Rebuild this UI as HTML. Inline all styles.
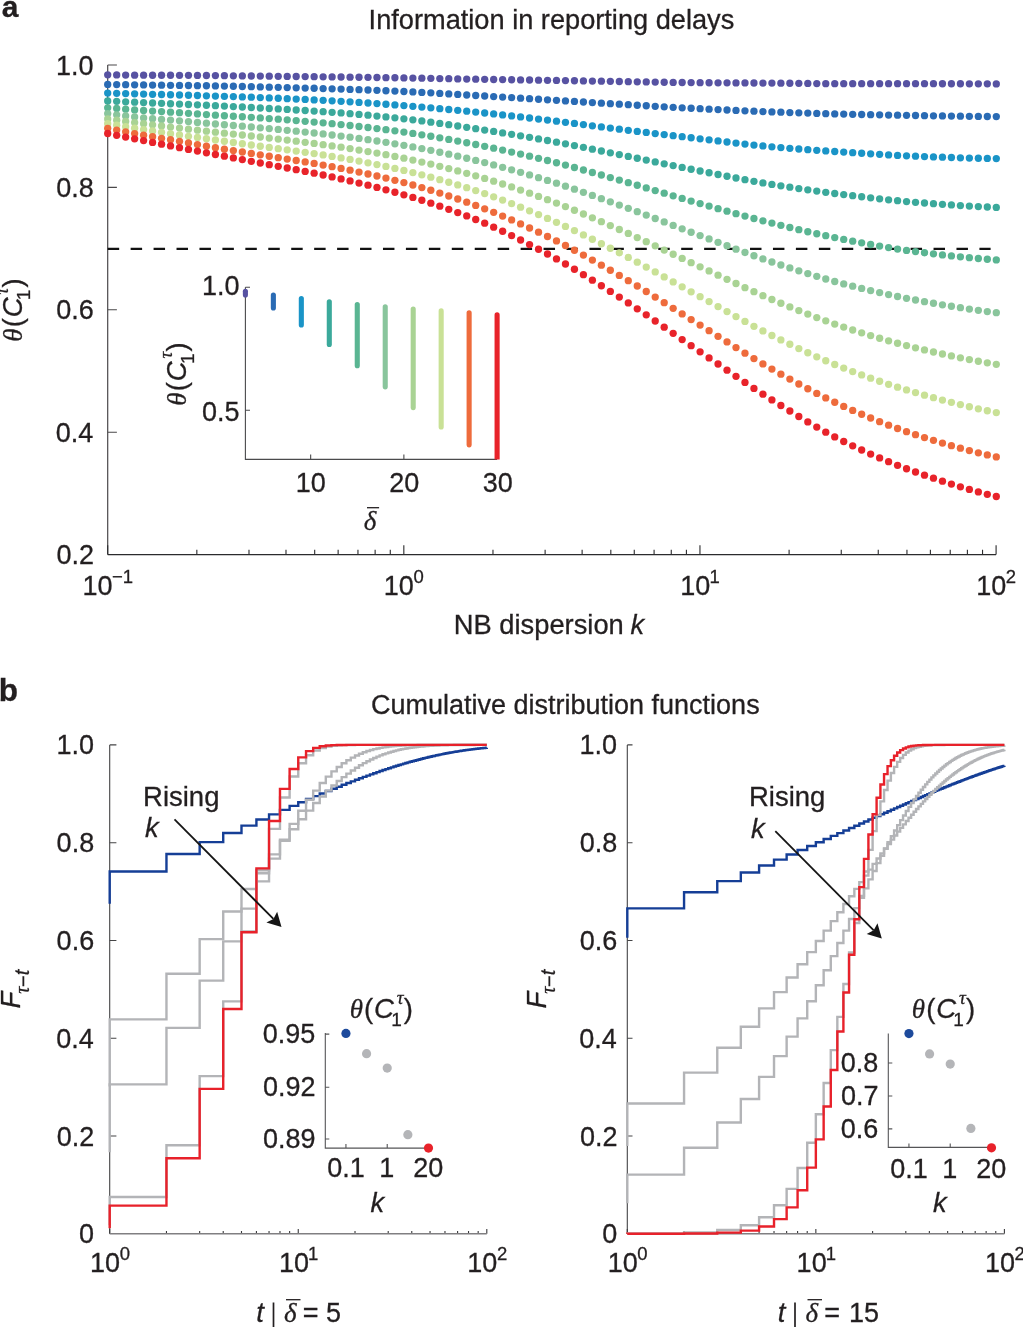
<!DOCTYPE html>
<html><head><meta charset="utf-8"><style>html,body{margin:0;padding:0;background:#fff;overflow:hidden;}svg{display:block;will-change:transform;}</style></head>
<body><svg width="1023" height="1327" viewBox="0 0 1023 1327">
<rect width="1023" height="1327" fill="#fff"/>
<text x="1.80" y="17.20" font-family='"Liberation Sans", sans-serif' font-size="30" font-weight="bold" fill="#231f20" stroke="#231f20" stroke-width="0.3">a</text>
<text x="368.58" y="28.60" font-family='"Liberation Sans", sans-serif' font-size="27.2" fill="#231f20" stroke="#231f20" stroke-width="0.3">Information in reporting delays</text>
<path d="M107.7 65.0H116.9M107.7 65.0V554.6" fill="none" stroke="#4a484a" stroke-width="1.2"/>
<path d="M107.7 554.6H996.09" fill="none" stroke="#2b2b2d" stroke-width="1.2"/>
<path d="M107.7 187.4h9.2M107.7 309.8h9.2M107.7 432.2h9.2" fill="none" stroke="#4a484a" stroke-width="1.1"/>
<path d="M107.7 554.6v-9.3M196.84 554.6v-4.8M248.99 554.6v-4.8M285.99 554.6v-4.8M314.69 554.6v-4.8M338.13 554.6v-4.8M357.96 554.6v-4.8M375.13 554.6v-4.8M390.28 554.6v-4.8M403.83 554.6v-9.3M492.97 554.6v-4.8M545.12 554.6v-4.8M582.12 554.6v-4.8M610.82 554.6v-4.8M634.26 554.6v-4.8M654.09 554.6v-4.8M671.26 554.6v-4.8M686.41 554.6v-4.8M699.96 554.6v-9.3M789.1 554.6v-4.8M841.25 554.6v-4.8M878.25 554.6v-4.8M906.95 554.6v-4.8M930.39 554.6v-4.8M950.22 554.6v-4.8M967.39 554.6v-4.8M982.54 554.6v-4.8M996.09 554.6v-9.3" fill="none" stroke="#2b2b2d" stroke-width="1.1"/>
<text x="56.08" y="74.50" font-family='"Liberation Sans", sans-serif' font-size="27" fill="#231f20" stroke="#231f20" stroke-width="0.3">1.0</text>
<text x="56.22" y="196.90" font-family='"Liberation Sans", sans-serif' font-size="27" fill="#231f20" stroke="#231f20" stroke-width="0.3">0.8</text>
<text x="56.22" y="319.30" font-family='"Liberation Sans", sans-serif' font-size="27" fill="#231f20" stroke="#231f20" stroke-width="0.3">0.6</text>
<text x="55.81" y="441.70" font-family='"Liberation Sans", sans-serif' font-size="27" fill="#231f20" stroke="#231f20" stroke-width="0.3">0.4</text>
<text x="56.42" y="564.10" font-family='"Liberation Sans", sans-serif' font-size="27" fill="#231f20" stroke="#231f20" stroke-width="0.3">0.2</text>
<text x="82.42" y="595.00" font-family='"Liberation Sans", sans-serif' font-size="27" fill="#231f20" stroke="#231f20" stroke-width="0.3">10</text><text x="111.95" y="582.60" font-family='"Liberation Sans", sans-serif' font-size="18.5" fill="#231f20" stroke="#231f20" stroke-width="0.3">−1</text>
<text x="383.77" y="595.00" font-family='"Liberation Sans", sans-serif' font-size="27" fill="#231f20" stroke="#231f20" stroke-width="0.3">10</text><text x="413.49" y="582.60" font-family='"Liberation Sans", sans-serif' font-size="18.5" fill="#231f20" stroke="#231f20" stroke-width="0.3">0</text>
<text x="680.32" y="595.00" font-family='"Liberation Sans", sans-serif' font-size="27" fill="#231f20" stroke="#231f20" stroke-width="0.3">10</text><text x="709.39" y="582.60" font-family='"Liberation Sans", sans-serif' font-size="18.5" fill="#231f20" stroke="#231f20" stroke-width="0.3">1</text>
<text x="976.24" y="595.00" font-family='"Liberation Sans", sans-serif' font-size="27" fill="#231f20" stroke="#231f20" stroke-width="0.3">10</text><text x="1005.77" y="582.60" font-family='"Liberation Sans", sans-serif' font-size="18.5" fill="#231f20" stroke="#231f20" stroke-width="0.3">2</text>
<text x="453.85" y="634.00" font-family='"Liberation Sans", sans-serif' font-size="27.3" fill="#231f20" stroke="#231f20" stroke-width="0.3">NB dispersion</text>
<text x="630.46" y="634.00" font-family='"Liberation Sans", sans-serif' font-size="27.3" font-style="italic" fill="#231f20" stroke="#231f20" stroke-width="0.3">k</text>
<g transform="translate(22.3 340.4) rotate(-90)"><text x="-1.35" y="0.00" font-family='"Liberation Serif", serif' font-size="27" font-style="italic" fill="#231f20" stroke="#231f20" stroke-width="0.3">θ</text><text x="13.08" y="0.00" font-family='"Liberation Sans", sans-serif' font-size="27.5" fill="#231f20" stroke="#231f20" stroke-width="0.3">(</text><text x="23.09" y="0.00" font-family='"Liberation Sans", sans-serif' font-size="27.5" font-style="italic" fill="#231f20" stroke="#231f20" stroke-width="0.3">C</text><text x="40.27" y="7.90" font-family='"Liberation Sans", sans-serif' font-size="19" fill="#231f20" stroke="#231f20" stroke-width="0.3">1</text><text x="45.87" y="-14.00" font-family='"Liberation Serif", serif' font-size="19" font-style="italic" fill="#231f20" stroke="#231f20" stroke-width="0.3">τ</text><text x="52.79" y="0.00" font-family='"Liberation Sans", sans-serif' font-size="27.5" fill="#231f20" stroke="#231f20" stroke-width="0.3">)</text></g>
<line x1="107.7" y1="248.8" x2="990.6" y2="248.8" stroke="#111" stroke-width="2.2" stroke-dasharray="11.47 11.47"/>
<g fill="#5752a2"><circle cx="107.7" cy="74.8" r="3.65"/><circle cx="116.68" cy="74.93" r="3.65"/><circle cx="125.65" cy="75.05" r="3.65"/><circle cx="134.63" cy="75.14" r="3.65"/><circle cx="143.6" cy="75.2" r="3.65"/><circle cx="152.58" cy="75.23" r="3.65"/><circle cx="161.55" cy="75.25" r="3.65"/><circle cx="170.53" cy="75.27" r="3.65"/><circle cx="179.51" cy="75.3" r="3.65"/><circle cx="188.48" cy="75.35" r="3.65"/><circle cx="197.46" cy="75.43" r="3.65"/><circle cx="206.43" cy="75.51" r="3.65"/><circle cx="215.41" cy="75.6" r="3.65"/><circle cx="224.38" cy="75.69" r="3.65"/><circle cx="233.36" cy="75.79" r="3.65"/><circle cx="242.34" cy="75.9" r="3.65"/><circle cx="251.31" cy="76" r="3.65"/><circle cx="260.29" cy="76.1" r="3.65"/><circle cx="269.26" cy="76.2" r="3.65"/><circle cx="278.24" cy="76.29" r="3.65"/><circle cx="287.22" cy="76.39" r="3.65"/><circle cx="296.19" cy="76.49" r="3.65"/><circle cx="305.17" cy="76.58" r="3.65"/><circle cx="314.14" cy="76.69" r="3.65"/><circle cx="323.12" cy="76.79" r="3.65"/><circle cx="332.09" cy="76.9" r="3.65"/><circle cx="341.07" cy="77.01" r="3.65"/><circle cx="350.05" cy="77.13" r="3.65"/><circle cx="359.02" cy="77.25" r="3.65"/><circle cx="368" cy="77.37" r="3.65"/><circle cx="376.97" cy="77.5" r="3.65"/><circle cx="385.95" cy="77.63" r="3.65"/><circle cx="394.92" cy="77.76" r="3.65"/><circle cx="403.9" cy="77.9" r="3.65"/><circle cx="412.88" cy="78.05" r="3.65"/><circle cx="421.85" cy="78.21" r="3.65"/><circle cx="430.83" cy="78.37" r="3.65"/><circle cx="439.8" cy="78.54" r="3.65"/><circle cx="448.78" cy="78.71" r="3.65"/><circle cx="457.75" cy="78.88" r="3.65"/><circle cx="466.73" cy="79.05" r="3.65"/><circle cx="475.71" cy="79.2" r="3.65"/><circle cx="484.68" cy="79.35" r="3.65"/><circle cx="493.66" cy="79.49" r="3.65"/><circle cx="502.63" cy="79.62" r="3.65"/><circle cx="511.61" cy="79.76" r="3.65"/><circle cx="520.58" cy="79.89" r="3.65"/><circle cx="529.56" cy="80.02" r="3.65"/><circle cx="538.54" cy="80.16" r="3.65"/><circle cx="547.51" cy="80.3" r="3.65"/><circle cx="556.49" cy="80.45" r="3.65"/><circle cx="565.46" cy="80.6" r="3.65"/><circle cx="574.44" cy="80.75" r="3.65"/><circle cx="583.42" cy="80.9" r="3.65"/><circle cx="592.39" cy="81.06" r="3.65"/><circle cx="601.37" cy="81.21" r="3.65"/><circle cx="610.34" cy="81.36" r="3.65"/><circle cx="619.32" cy="81.5" r="3.65"/><circle cx="628.29" cy="81.65" r="3.65"/><circle cx="637.27" cy="81.8" r="3.65"/><circle cx="646.25" cy="81.95" r="3.65"/><circle cx="655.22" cy="82.1" r="3.65"/><circle cx="664.2" cy="82.25" r="3.65"/><circle cx="673.17" cy="82.39" r="3.65"/><circle cx="682.15" cy="82.51" r="3.65"/><circle cx="691.12" cy="82.62" r="3.65"/><circle cx="700.1" cy="82.7" r="3.65"/><circle cx="709.08" cy="82.77" r="3.65"/><circle cx="718.05" cy="82.82" r="3.65"/><circle cx="727.03" cy="82.87" r="3.65"/><circle cx="736" cy="82.91" r="3.65"/><circle cx="744.98" cy="82.95" r="3.65"/><circle cx="753.95" cy="83" r="3.65"/><circle cx="762.93" cy="83.04" r="3.65"/><circle cx="771.91" cy="83.1" r="3.65"/><circle cx="780.88" cy="83.17" r="3.65"/><circle cx="789.86" cy="83.26" r="3.65"/><circle cx="798.83" cy="83.36" r="3.65"/><circle cx="807.81" cy="83.46" r="3.65"/><circle cx="816.78" cy="83.55" r="3.65"/><circle cx="825.76" cy="83.63" r="3.65"/><circle cx="834.74" cy="83.68" r="3.65"/><circle cx="843.71" cy="83.7" r="3.65"/><circle cx="852.69" cy="83.7" r="3.65"/><circle cx="861.66" cy="83.7" r="3.65"/><circle cx="870.64" cy="83.7" r="3.65"/><circle cx="879.62" cy="83.7" r="3.65"/><circle cx="888.59" cy="83.7" r="3.65"/><circle cx="897.57" cy="83.7" r="3.65"/><circle cx="906.54" cy="83.7" r="3.65"/><circle cx="915.52" cy="83.7" r="3.65"/><circle cx="924.49" cy="83.7" r="3.65"/><circle cx="933.47" cy="83.71" r="3.65"/><circle cx="942.45" cy="83.73" r="3.65"/><circle cx="951.42" cy="83.75" r="3.65"/><circle cx="960.4" cy="83.77" r="3.65"/><circle cx="969.37" cy="83.8" r="3.65"/><circle cx="978.35" cy="83.83" r="3.65"/><circle cx="987.32" cy="83.87" r="3.65"/><circle cx="996.3" cy="83.9" r="3.65"/></g>
<g fill="#2a6bb4"><circle cx="107.7" cy="84.4" r="3.65"/><circle cx="116.68" cy="84.53" r="3.65"/><circle cx="125.65" cy="84.65" r="3.65"/><circle cx="134.63" cy="84.78" r="3.65"/><circle cx="143.6" cy="84.9" r="3.65"/><circle cx="152.58" cy="85.03" r="3.65"/><circle cx="161.55" cy="85.15" r="3.65"/><circle cx="170.53" cy="85.28" r="3.65"/><circle cx="179.51" cy="85.4" r="3.65"/><circle cx="188.48" cy="85.52" r="3.65"/><circle cx="197.46" cy="85.64" r="3.65"/><circle cx="206.43" cy="85.76" r="3.65"/><circle cx="215.41" cy="85.9" r="3.65"/><circle cx="224.38" cy="86.07" r="3.65"/><circle cx="233.36" cy="86.27" r="3.65"/><circle cx="242.34" cy="86.48" r="3.65"/><circle cx="251.31" cy="86.7" r="3.65"/><circle cx="260.29" cy="86.91" r="3.65"/><circle cx="269.26" cy="87.13" r="3.65"/><circle cx="278.24" cy="87.34" r="3.65"/><circle cx="287.22" cy="87.57" r="3.65"/><circle cx="296.19" cy="87.79" r="3.65"/><circle cx="305.17" cy="88.03" r="3.65"/><circle cx="314.14" cy="88.27" r="3.65"/><circle cx="323.12" cy="88.53" r="3.65"/><circle cx="332.09" cy="88.8" r="3.65"/><circle cx="341.07" cy="89.08" r="3.65"/><circle cx="350.05" cy="89.38" r="3.65"/><circle cx="359.02" cy="89.7" r="3.65"/><circle cx="368" cy="90.02" r="3.65"/><circle cx="376.97" cy="90.37" r="3.65"/><circle cx="385.95" cy="90.73" r="3.65"/><circle cx="394.92" cy="91.11" r="3.65"/><circle cx="403.9" cy="91.5" r="3.65"/><circle cx="412.88" cy="91.92" r="3.65"/><circle cx="421.85" cy="92.38" r="3.65"/><circle cx="430.83" cy="92.87" r="3.65"/><circle cx="439.8" cy="93.38" r="3.65"/><circle cx="448.78" cy="93.91" r="3.65"/><circle cx="457.75" cy="94.44" r="3.65"/><circle cx="466.73" cy="94.98" r="3.65"/><circle cx="475.71" cy="95.5" r="3.65"/><circle cx="484.68" cy="96.02" r="3.65"/><circle cx="493.66" cy="96.55" r="3.65"/><circle cx="502.63" cy="97.09" r="3.65"/><circle cx="511.61" cy="97.62" r="3.65"/><circle cx="520.58" cy="98.17" r="3.65"/><circle cx="529.56" cy="98.71" r="3.65"/><circle cx="538.54" cy="99.26" r="3.65"/><circle cx="547.51" cy="99.8" r="3.65"/><circle cx="556.49" cy="100.35" r="3.65"/><circle cx="565.46" cy="100.9" r="3.65"/><circle cx="574.44" cy="101.46" r="3.65"/><circle cx="583.42" cy="102.02" r="3.65"/><circle cx="592.39" cy="102.58" r="3.65"/><circle cx="601.37" cy="103.13" r="3.65"/><circle cx="610.34" cy="103.67" r="3.65"/><circle cx="619.32" cy="104.2" r="3.65"/><circle cx="628.29" cy="104.72" r="3.65"/><circle cx="637.27" cy="105.25" r="3.65"/><circle cx="646.25" cy="105.77" r="3.65"/><circle cx="655.22" cy="106.29" r="3.65"/><circle cx="664.2" cy="106.79" r="3.65"/><circle cx="673.17" cy="107.29" r="3.65"/><circle cx="682.15" cy="107.78" r="3.65"/><circle cx="691.12" cy="108.25" r="3.65"/><circle cx="700.1" cy="108.7" r="3.65"/><circle cx="709.08" cy="109.14" r="3.65"/><circle cx="718.05" cy="109.58" r="3.65"/><circle cx="727.03" cy="110" r="3.65"/><circle cx="736" cy="110.42" r="3.65"/><circle cx="744.98" cy="110.82" r="3.65"/><circle cx="753.95" cy="111.2" r="3.65"/><circle cx="762.93" cy="111.56" r="3.65"/><circle cx="771.91" cy="111.9" r="3.65"/><circle cx="780.88" cy="112.22" r="3.65"/><circle cx="789.86" cy="112.53" r="3.65"/><circle cx="798.83" cy="112.83" r="3.65"/><circle cx="807.81" cy="113.11" r="3.65"/><circle cx="816.78" cy="113.38" r="3.65"/><circle cx="825.76" cy="113.64" r="3.65"/><circle cx="834.74" cy="113.88" r="3.65"/><circle cx="843.71" cy="114.1" r="3.65"/><circle cx="852.69" cy="114.31" r="3.65"/><circle cx="861.66" cy="114.51" r="3.65"/><circle cx="870.64" cy="114.69" r="3.65"/><circle cx="879.62" cy="114.87" r="3.65"/><circle cx="888.59" cy="115.04" r="3.65"/><circle cx="897.57" cy="115.2" r="3.65"/><circle cx="906.54" cy="115.35" r="3.65"/><circle cx="915.52" cy="115.5" r="3.65"/><circle cx="924.49" cy="115.64" r="3.65"/><circle cx="933.47" cy="115.78" r="3.65"/><circle cx="942.45" cy="115.91" r="3.65"/><circle cx="951.42" cy="116.04" r="3.65"/><circle cx="960.4" cy="116.17" r="3.65"/><circle cx="969.37" cy="116.29" r="3.65"/><circle cx="978.35" cy="116.4" r="3.65"/><circle cx="987.32" cy="116.5" r="3.65"/><circle cx="996.3" cy="116.6" r="3.65"/></g>
<g fill="#1a94c7"><circle cx="107.7" cy="93.1" r="3.65"/><circle cx="116.68" cy="93.34" r="3.65"/><circle cx="125.65" cy="93.57" r="3.65"/><circle cx="134.63" cy="93.81" r="3.65"/><circle cx="143.6" cy="94.05" r="3.65"/><circle cx="152.58" cy="94.29" r="3.65"/><circle cx="161.55" cy="94.52" r="3.65"/><circle cx="170.53" cy="94.76" r="3.65"/><circle cx="179.51" cy="95" r="3.65"/><circle cx="188.48" cy="95.25" r="3.65"/><circle cx="197.46" cy="95.51" r="3.65"/><circle cx="206.43" cy="95.78" r="3.65"/><circle cx="215.41" cy="96.05" r="3.65"/><circle cx="224.38" cy="96.32" r="3.65"/><circle cx="233.36" cy="96.6" r="3.65"/><circle cx="242.34" cy="96.89" r="3.65"/><circle cx="251.31" cy="97.2" r="3.65"/><circle cx="260.29" cy="97.53" r="3.65"/><circle cx="269.26" cy="97.88" r="3.65"/><circle cx="278.24" cy="98.25" r="3.65"/><circle cx="287.22" cy="98.63" r="3.65"/><circle cx="296.19" cy="99.03" r="3.65"/><circle cx="305.17" cy="99.44" r="3.65"/><circle cx="314.14" cy="99.88" r="3.65"/><circle cx="323.12" cy="100.33" r="3.65"/><circle cx="332.09" cy="100.8" r="3.65"/><circle cx="341.07" cy="101.3" r="3.65"/><circle cx="350.05" cy="101.83" r="3.65"/><circle cx="359.02" cy="102.4" r="3.65"/><circle cx="368" cy="102.99" r="3.65"/><circle cx="376.97" cy="103.61" r="3.65"/><circle cx="385.95" cy="104.25" r="3.65"/><circle cx="394.92" cy="104.92" r="3.65"/><circle cx="403.9" cy="105.6" r="3.65"/><circle cx="412.88" cy="106.31" r="3.65"/><circle cx="421.85" cy="107.06" r="3.65"/><circle cx="430.83" cy="107.84" r="3.65"/><circle cx="439.8" cy="108.64" r="3.65"/><circle cx="448.78" cy="109.48" r="3.65"/><circle cx="457.75" cy="110.33" r="3.65"/><circle cx="466.73" cy="111.21" r="3.65"/><circle cx="475.71" cy="112.1" r="3.65"/><circle cx="484.68" cy="113.01" r="3.65"/><circle cx="493.66" cy="113.96" r="3.65"/><circle cx="502.63" cy="114.93" r="3.65"/><circle cx="511.61" cy="115.93" r="3.65"/><circle cx="520.58" cy="116.95" r="3.65"/><circle cx="529.56" cy="117.99" r="3.65"/><circle cx="538.54" cy="119.04" r="3.65"/><circle cx="547.51" cy="120.1" r="3.65"/><circle cx="556.49" cy="121.19" r="3.65"/><circle cx="565.46" cy="122.31" r="3.65"/><circle cx="574.44" cy="123.45" r="3.65"/><circle cx="583.42" cy="124.61" r="3.65"/><circle cx="592.39" cy="125.78" r="3.65"/><circle cx="601.37" cy="126.94" r="3.65"/><circle cx="610.34" cy="128.08" r="3.65"/><circle cx="619.32" cy="129.2" r="3.65"/><circle cx="628.29" cy="130.3" r="3.65"/><circle cx="637.27" cy="131.39" r="3.65"/><circle cx="646.25" cy="132.47" r="3.65"/><circle cx="655.22" cy="133.54" r="3.65"/><circle cx="664.2" cy="134.61" r="3.65"/><circle cx="673.17" cy="135.67" r="3.65"/><circle cx="682.15" cy="136.72" r="3.65"/><circle cx="691.12" cy="137.76" r="3.65"/><circle cx="700.1" cy="138.8" r="3.65"/><circle cx="709.08" cy="139.85" r="3.65"/><circle cx="718.05" cy="140.91" r="3.65"/><circle cx="727.03" cy="141.98" r="3.65"/><circle cx="736" cy="143.03" r="3.65"/><circle cx="744.98" cy="144.06" r="3.65"/><circle cx="753.95" cy="145.04" r="3.65"/><circle cx="762.93" cy="145.96" r="3.65"/><circle cx="771.91" cy="146.8" r="3.65"/><circle cx="780.88" cy="147.57" r="3.65"/><circle cx="789.86" cy="148.31" r="3.65"/><circle cx="798.83" cy="149" r="3.65"/><circle cx="807.81" cy="149.67" r="3.65"/><circle cx="816.78" cy="150.31" r="3.65"/><circle cx="825.76" cy="150.92" r="3.65"/><circle cx="834.74" cy="151.52" r="3.65"/><circle cx="843.71" cy="152.1" r="3.65"/><circle cx="852.69" cy="152.68" r="3.65"/><circle cx="861.66" cy="153.26" r="3.65"/><circle cx="870.64" cy="153.83" r="3.65"/><circle cx="879.62" cy="154.37" r="3.65"/><circle cx="888.59" cy="154.9" r="3.65"/><circle cx="897.57" cy="155.38" r="3.65"/><circle cx="906.54" cy="155.82" r="3.65"/><circle cx="915.52" cy="156.2" r="3.65"/><circle cx="924.49" cy="156.55" r="3.65"/><circle cx="933.47" cy="156.88" r="3.65"/><circle cx="942.45" cy="157.2" r="3.65"/><circle cx="951.42" cy="157.5" r="3.65"/><circle cx="960.4" cy="157.78" r="3.65"/><circle cx="969.37" cy="158.03" r="3.65"/><circle cx="978.35" cy="158.25" r="3.65"/><circle cx="987.32" cy="158.44" r="3.65"/><circle cx="996.3" cy="158.6" r="3.65"/></g>
<g fill="#3ba99b"><circle cx="107.7" cy="100.9" r="3.65"/><circle cx="116.68" cy="101.34" r="3.65"/><circle cx="125.65" cy="101.78" r="3.65"/><circle cx="134.63" cy="102.19" r="3.65"/><circle cx="143.6" cy="102.6" r="3.65"/><circle cx="152.58" cy="102.99" r="3.65"/><circle cx="161.55" cy="103.36" r="3.65"/><circle cx="170.53" cy="103.73" r="3.65"/><circle cx="179.51" cy="104.1" r="3.65"/><circle cx="188.48" cy="104.48" r="3.65"/><circle cx="197.46" cy="104.85" r="3.65"/><circle cx="206.43" cy="105.24" r="3.65"/><circle cx="215.41" cy="105.65" r="3.65"/><circle cx="224.38" cy="106.08" r="3.65"/><circle cx="233.36" cy="106.54" r="3.65"/><circle cx="242.34" cy="107.01" r="3.65"/><circle cx="251.31" cy="107.5" r="3.65"/><circle cx="260.29" cy="107.99" r="3.65"/><circle cx="269.26" cy="108.48" r="3.65"/><circle cx="278.24" cy="108.97" r="3.65"/><circle cx="287.22" cy="109.47" r="3.65"/><circle cx="296.19" cy="109.98" r="3.65"/><circle cx="305.17" cy="110.52" r="3.65"/><circle cx="314.14" cy="111.08" r="3.65"/><circle cx="323.12" cy="111.67" r="3.65"/><circle cx="332.09" cy="112.3" r="3.65"/><circle cx="341.07" cy="112.97" r="3.65"/><circle cx="350.05" cy="113.68" r="3.65"/><circle cx="359.02" cy="114.42" r="3.65"/><circle cx="368" cy="115.22" r="3.65"/><circle cx="376.97" cy="116.05" r="3.65"/><circle cx="385.95" cy="116.92" r="3.65"/><circle cx="394.92" cy="117.84" r="3.65"/><circle cx="403.9" cy="118.8" r="3.65"/><circle cx="412.88" cy="119.83" r="3.65"/><circle cx="421.85" cy="120.95" r="3.65"/><circle cx="430.83" cy="122.14" r="3.65"/><circle cx="439.8" cy="123.39" r="3.65"/><circle cx="448.78" cy="124.68" r="3.65"/><circle cx="457.75" cy="126.01" r="3.65"/><circle cx="466.73" cy="127.35" r="3.65"/><circle cx="475.71" cy="128.7" r="3.65"/><circle cx="484.68" cy="130.06" r="3.65"/><circle cx="493.66" cy="131.46" r="3.65"/><circle cx="502.63" cy="132.88" r="3.65"/><circle cx="511.61" cy="134.34" r="3.65"/><circle cx="520.58" cy="135.83" r="3.65"/><circle cx="529.56" cy="137.35" r="3.65"/><circle cx="538.54" cy="138.91" r="3.65"/><circle cx="547.51" cy="140.5" r="3.65"/><circle cx="556.49" cy="142.14" r="3.65"/><circle cx="565.46" cy="143.84" r="3.65"/><circle cx="574.44" cy="145.58" r="3.65"/><circle cx="583.42" cy="147.36" r="3.65"/><circle cx="592.39" cy="149.17" r="3.65"/><circle cx="601.37" cy="150.98" r="3.65"/><circle cx="610.34" cy="152.8" r="3.65"/><circle cx="619.32" cy="154.6" r="3.65"/><circle cx="628.29" cy="156.41" r="3.65"/><circle cx="637.27" cy="158.23" r="3.65"/><circle cx="646.25" cy="160.08" r="3.65"/><circle cx="655.22" cy="161.93" r="3.65"/><circle cx="664.2" cy="163.78" r="3.65"/><circle cx="673.17" cy="165.62" r="3.65"/><circle cx="682.15" cy="167.44" r="3.65"/><circle cx="691.12" cy="169.24" r="3.65"/><circle cx="700.1" cy="171" r="3.65"/><circle cx="709.08" cy="172.75" r="3.65"/><circle cx="718.05" cy="174.51" r="3.65"/><circle cx="727.03" cy="176.27" r="3.65"/><circle cx="736" cy="178" r="3.65"/><circle cx="744.98" cy="179.69" r="3.65"/><circle cx="753.95" cy="181.33" r="3.65"/><circle cx="762.93" cy="182.91" r="3.65"/><circle cx="771.91" cy="184.4" r="3.65"/><circle cx="780.88" cy="185.83" r="3.65"/><circle cx="789.86" cy="187.21" r="3.65"/><circle cx="798.83" cy="188.55" r="3.65"/><circle cx="807.81" cy="189.85" r="3.65"/><circle cx="816.78" cy="191.11" r="3.65"/><circle cx="825.76" cy="192.32" r="3.65"/><circle cx="834.74" cy="193.48" r="3.65"/><circle cx="843.71" cy="194.6" r="3.65"/><circle cx="852.69" cy="195.69" r="3.65"/><circle cx="861.66" cy="196.77" r="3.65"/><circle cx="870.64" cy="197.82" r="3.65"/><circle cx="879.62" cy="198.83" r="3.65"/><circle cx="888.59" cy="199.79" r="3.65"/><circle cx="897.57" cy="200.7" r="3.65"/><circle cx="906.54" cy="201.54" r="3.65"/><circle cx="915.52" cy="202.3" r="3.65"/><circle cx="924.49" cy="203.01" r="3.65"/><circle cx="933.47" cy="203.69" r="3.65"/><circle cx="942.45" cy="204.34" r="3.65"/><circle cx="951.42" cy="204.96" r="3.65"/><circle cx="960.4" cy="205.54" r="3.65"/><circle cx="969.37" cy="206.08" r="3.65"/><circle cx="978.35" cy="206.57" r="3.65"/><circle cx="987.32" cy="207.01" r="3.65"/><circle cx="996.3" cy="207.4" r="3.65"/></g>
<g fill="#5ab592"><circle cx="107.7" cy="107.8" r="3.65"/><circle cx="116.68" cy="108.52" r="3.65"/><circle cx="125.65" cy="109.22" r="3.65"/><circle cx="134.63" cy="109.88" r="3.65"/><circle cx="143.6" cy="110.5" r="3.65"/><circle cx="152.58" cy="111.07" r="3.65"/><circle cx="161.55" cy="111.61" r="3.65"/><circle cx="170.53" cy="112.14" r="3.65"/><circle cx="179.51" cy="112.7" r="3.65"/><circle cx="188.48" cy="113.31" r="3.65"/><circle cx="197.46" cy="113.96" r="3.65"/><circle cx="206.43" cy="114.6" r="3.65"/><circle cx="215.41" cy="115.2" r="3.65"/><circle cx="224.38" cy="115.74" r="3.65"/><circle cx="233.36" cy="116.24" r="3.65"/><circle cx="242.34" cy="116.75" r="3.65"/><circle cx="251.31" cy="117.3" r="3.65"/><circle cx="260.29" cy="117.9" r="3.65"/><circle cx="269.26" cy="118.53" r="3.65"/><circle cx="278.24" cy="119.18" r="3.65"/><circle cx="287.22" cy="119.86" r="3.65"/><circle cx="296.19" cy="120.57" r="3.65"/><circle cx="305.17" cy="121.3" r="3.65"/><circle cx="314.14" cy="122.07" r="3.65"/><circle cx="323.12" cy="122.87" r="3.65"/><circle cx="332.09" cy="123.7" r="3.65"/><circle cx="341.07" cy="124.58" r="3.65"/><circle cx="350.05" cy="125.5" r="3.65"/><circle cx="359.02" cy="126.48" r="3.65"/><circle cx="368" cy="127.5" r="3.65"/><circle cx="376.97" cy="128.57" r="3.65"/><circle cx="385.95" cy="129.7" r="3.65"/><circle cx="394.92" cy="130.87" r="3.65"/><circle cx="403.9" cy="132.1" r="3.65"/><circle cx="412.88" cy="133.4" r="3.65"/><circle cx="421.85" cy="134.79" r="3.65"/><circle cx="430.83" cy="136.26" r="3.65"/><circle cx="439.8" cy="137.81" r="3.65"/><circle cx="448.78" cy="139.41" r="3.65"/><circle cx="457.75" cy="141.07" r="3.65"/><circle cx="466.73" cy="142.77" r="3.65"/><circle cx="475.71" cy="144.5" r="3.65"/><circle cx="484.68" cy="146.28" r="3.65"/><circle cx="493.66" cy="148.14" r="3.65"/><circle cx="502.63" cy="150.06" r="3.65"/><circle cx="511.61" cy="152.04" r="3.65"/><circle cx="520.58" cy="154.08" r="3.65"/><circle cx="529.56" cy="156.18" r="3.65"/><circle cx="538.54" cy="158.32" r="3.65"/><circle cx="547.51" cy="160.5" r="3.65"/><circle cx="556.49" cy="162.75" r="3.65"/><circle cx="565.46" cy="165.09" r="3.65"/><circle cx="574.44" cy="167.51" r="3.65"/><circle cx="583.42" cy="169.98" r="3.65"/><circle cx="592.39" cy="172.49" r="3.65"/><circle cx="601.37" cy="175.02" r="3.65"/><circle cx="610.34" cy="177.56" r="3.65"/><circle cx="619.32" cy="180.1" r="3.65"/><circle cx="628.29" cy="182.65" r="3.65"/><circle cx="637.27" cy="185.25" r="3.65"/><circle cx="646.25" cy="187.88" r="3.65"/><circle cx="655.22" cy="190.53" r="3.65"/><circle cx="664.2" cy="193.18" r="3.65"/><circle cx="673.17" cy="195.83" r="3.65"/><circle cx="682.15" cy="198.46" r="3.65"/><circle cx="691.12" cy="201.05" r="3.65"/><circle cx="700.1" cy="203.6" r="3.65"/><circle cx="709.08" cy="206.12" r="3.65"/><circle cx="718.05" cy="208.65" r="3.65"/><circle cx="727.03" cy="211.16" r="3.65"/><circle cx="736" cy="213.65" r="3.65"/><circle cx="744.98" cy="216.1" r="3.65"/><circle cx="753.95" cy="218.5" r="3.65"/><circle cx="762.93" cy="220.84" r="3.65"/><circle cx="771.91" cy="223.1" r="3.65"/><circle cx="780.88" cy="225.31" r="3.65"/><circle cx="789.86" cy="227.49" r="3.65"/><circle cx="798.83" cy="229.63" r="3.65"/><circle cx="807.81" cy="231.73" r="3.65"/><circle cx="816.78" cy="233.76" r="3.65"/><circle cx="825.76" cy="235.72" r="3.65"/><circle cx="834.74" cy="237.61" r="3.65"/><circle cx="843.71" cy="239.4" r="3.65"/><circle cx="852.69" cy="241.13" r="3.65"/><circle cx="861.66" cy="242.84" r="3.65"/><circle cx="870.64" cy="244.49" r="3.65"/><circle cx="879.62" cy="246.09" r="3.65"/><circle cx="888.59" cy="247.61" r="3.65"/><circle cx="897.57" cy="249.05" r="3.65"/><circle cx="906.54" cy="250.38" r="3.65"/><circle cx="915.52" cy="251.6" r="3.65"/><circle cx="924.49" cy="252.74" r="3.65"/><circle cx="933.47" cy="253.84" r="3.65"/><circle cx="942.45" cy="254.89" r="3.65"/><circle cx="951.42" cy="255.89" r="3.65"/><circle cx="960.4" cy="256.83" r="3.65"/><circle cx="969.37" cy="257.71" r="3.65"/><circle cx="978.35" cy="258.52" r="3.65"/><circle cx="987.32" cy="259.25" r="3.65"/><circle cx="996.3" cy="259.9" r="3.65"/></g>
<g fill="#89c59c"><circle cx="107.7" cy="113.6" r="3.65"/><circle cx="116.68" cy="114.81" r="3.65"/><circle cx="125.65" cy="115.94" r="3.65"/><circle cx="134.63" cy="116.98" r="3.65"/><circle cx="143.6" cy="117.9" r="3.65"/><circle cx="152.58" cy="118.7" r="3.65"/><circle cx="161.55" cy="119.4" r="3.65"/><circle cx="170.53" cy="120.08" r="3.65"/><circle cx="179.51" cy="120.8" r="3.65"/><circle cx="188.48" cy="121.58" r="3.65"/><circle cx="197.46" cy="122.39" r="3.65"/><circle cx="206.43" cy="123.21" r="3.65"/><circle cx="215.41" cy="124" r="3.65"/><circle cx="224.38" cy="124.75" r="3.65"/><circle cx="233.36" cy="125.48" r="3.65"/><circle cx="242.34" cy="126.22" r="3.65"/><circle cx="251.31" cy="127" r="3.65"/><circle cx="260.29" cy="127.81" r="3.65"/><circle cx="269.26" cy="128.62" r="3.65"/><circle cx="278.24" cy="129.44" r="3.65"/><circle cx="287.22" cy="130.29" r="3.65"/><circle cx="296.19" cy="131.16" r="3.65"/><circle cx="305.17" cy="132.06" r="3.65"/><circle cx="314.14" cy="132.99" r="3.65"/><circle cx="323.12" cy="133.97" r="3.65"/><circle cx="332.09" cy="135" r="3.65"/><circle cx="341.07" cy="136.08" r="3.65"/><circle cx="350.05" cy="137.22" r="3.65"/><circle cx="359.02" cy="138.42" r="3.65"/><circle cx="368" cy="139.67" r="3.65"/><circle cx="376.97" cy="140.99" r="3.65"/><circle cx="385.95" cy="142.36" r="3.65"/><circle cx="394.92" cy="143.8" r="3.65"/><circle cx="403.9" cy="145.3" r="3.65"/><circle cx="412.88" cy="146.89" r="3.65"/><circle cx="421.85" cy="148.57" r="3.65"/><circle cx="430.83" cy="150.36" r="3.65"/><circle cx="439.8" cy="152.23" r="3.65"/><circle cx="448.78" cy="154.18" r="3.65"/><circle cx="457.75" cy="156.19" r="3.65"/><circle cx="466.73" cy="158.27" r="3.65"/><circle cx="475.71" cy="160.4" r="3.65"/><circle cx="484.68" cy="162.6" r="3.65"/><circle cx="493.66" cy="164.91" r="3.65"/><circle cx="502.63" cy="167.31" r="3.65"/><circle cx="511.61" cy="169.79" r="3.65"/><circle cx="520.58" cy="172.35" r="3.65"/><circle cx="529.56" cy="174.97" r="3.65"/><circle cx="538.54" cy="177.66" r="3.65"/><circle cx="547.51" cy="180.4" r="3.65"/><circle cx="556.49" cy="183.22" r="3.65"/><circle cx="565.46" cy="186.16" r="3.65"/><circle cx="574.44" cy="189.18" r="3.65"/><circle cx="583.42" cy="192.28" r="3.65"/><circle cx="592.39" cy="195.44" r="3.65"/><circle cx="601.37" cy="198.64" r="3.65"/><circle cx="610.34" cy="201.87" r="3.65"/><circle cx="619.32" cy="205.1" r="3.65"/><circle cx="628.29" cy="208.37" r="3.65"/><circle cx="637.27" cy="211.7" r="3.65"/><circle cx="646.25" cy="215.08" r="3.65"/><circle cx="655.22" cy="218.5" r="3.65"/><circle cx="664.2" cy="221.94" r="3.65"/><circle cx="673.17" cy="225.39" r="3.65"/><circle cx="682.15" cy="228.82" r="3.65"/><circle cx="691.12" cy="232.23" r="3.65"/><circle cx="700.1" cy="235.6" r="3.65"/><circle cx="709.08" cy="238.97" r="3.65"/><circle cx="718.05" cy="242.36" r="3.65"/><circle cx="727.03" cy="245.77" r="3.65"/><circle cx="736" cy="249.15" r="3.65"/><circle cx="744.98" cy="252.49" r="3.65"/><circle cx="753.95" cy="255.76" r="3.65"/><circle cx="762.93" cy="258.94" r="3.65"/><circle cx="771.91" cy="262" r="3.65"/><circle cx="780.88" cy="264.98" r="3.65"/><circle cx="789.86" cy="267.92" r="3.65"/><circle cx="798.83" cy="270.81" r="3.65"/><circle cx="807.81" cy="273.62" r="3.65"/><circle cx="816.78" cy="276.36" r="3.65"/><circle cx="825.76" cy="278.99" r="3.65"/><circle cx="834.74" cy="281.51" r="3.65"/><circle cx="843.71" cy="283.9" r="3.65"/><circle cx="852.69" cy="286.19" r="3.65"/><circle cx="861.66" cy="288.4" r="3.65"/><circle cx="870.64" cy="290.54" r="3.65"/><circle cx="879.62" cy="292.6" r="3.65"/><circle cx="888.59" cy="294.59" r="3.65"/><circle cx="897.57" cy="296.48" r="3.65"/><circle cx="906.54" cy="298.29" r="3.65"/><circle cx="915.52" cy="300" r="3.65"/><circle cx="924.49" cy="301.64" r="3.65"/><circle cx="933.47" cy="303.24" r="3.65"/><circle cx="942.45" cy="304.78" r="3.65"/><circle cx="951.42" cy="306.27" r="3.65"/><circle cx="960.4" cy="307.7" r="3.65"/><circle cx="969.37" cy="309.06" r="3.65"/><circle cx="978.35" cy="310.35" r="3.65"/><circle cx="987.32" cy="311.57" r="3.65"/><circle cx="996.3" cy="312.7" r="3.65"/></g>
<g fill="#a9d394"><circle cx="107.7" cy="119" r="3.65"/><circle cx="116.68" cy="120.2" r="3.65"/><circle cx="125.65" cy="121.39" r="3.65"/><circle cx="134.63" cy="122.55" r="3.65"/><circle cx="143.6" cy="123.7" r="3.65"/><circle cx="152.58" cy="124.83" r="3.65"/><circle cx="161.55" cy="125.94" r="3.65"/><circle cx="170.53" cy="127.03" r="3.65"/><circle cx="179.51" cy="128.1" r="3.65"/><circle cx="188.48" cy="129.15" r="3.65"/><circle cx="197.46" cy="130.19" r="3.65"/><circle cx="206.43" cy="131.2" r="3.65"/><circle cx="215.41" cy="132.2" r="3.65"/><circle cx="224.38" cy="133.16" r="3.65"/><circle cx="233.36" cy="134.09" r="3.65"/><circle cx="242.34" cy="135.02" r="3.65"/><circle cx="251.31" cy="136" r="3.65"/><circle cx="260.29" cy="137.01" r="3.65"/><circle cx="269.26" cy="138.03" r="3.65"/><circle cx="278.24" cy="139.06" r="3.65"/><circle cx="287.22" cy="140.1" r="3.65"/><circle cx="296.19" cy="141.18" r="3.65"/><circle cx="305.17" cy="142.29" r="3.65"/><circle cx="314.14" cy="143.44" r="3.65"/><circle cx="323.12" cy="144.64" r="3.65"/><circle cx="332.09" cy="145.9" r="3.65"/><circle cx="341.07" cy="147.22" r="3.65"/><circle cx="350.05" cy="148.59" r="3.65"/><circle cx="359.02" cy="150.03" r="3.65"/><circle cx="368" cy="151.53" r="3.65"/><circle cx="376.97" cy="153.09" r="3.65"/><circle cx="385.95" cy="154.72" r="3.65"/><circle cx="394.92" cy="156.43" r="3.65"/><circle cx="403.9" cy="158.2" r="3.65"/><circle cx="412.88" cy="160.06" r="3.65"/><circle cx="421.85" cy="162.04" r="3.65"/><circle cx="430.83" cy="164.11" r="3.65"/><circle cx="439.8" cy="166.28" r="3.65"/><circle cx="448.78" cy="168.53" r="3.65"/><circle cx="457.75" cy="170.88" r="3.65"/><circle cx="466.73" cy="173.3" r="3.65"/><circle cx="475.71" cy="175.8" r="3.65"/><circle cx="484.68" cy="178.4" r="3.65"/><circle cx="493.66" cy="181.14" r="3.65"/><circle cx="502.63" cy="184" r="3.65"/><circle cx="511.61" cy="186.97" r="3.65"/><circle cx="520.58" cy="190.03" r="3.65"/><circle cx="529.56" cy="193.19" r="3.65"/><circle cx="538.54" cy="196.41" r="3.65"/><circle cx="547.51" cy="199.7" r="3.65"/><circle cx="556.49" cy="203.09" r="3.65"/><circle cx="565.46" cy="206.62" r="3.65"/><circle cx="574.44" cy="210.26" r="3.65"/><circle cx="583.42" cy="214" r="3.65"/><circle cx="592.39" cy="217.81" r="3.65"/><circle cx="601.37" cy="221.68" r="3.65"/><circle cx="610.34" cy="225.58" r="3.65"/><circle cx="619.32" cy="229.5" r="3.65"/><circle cx="628.29" cy="233.47" r="3.65"/><circle cx="637.27" cy="237.53" r="3.65"/><circle cx="646.25" cy="241.65" r="3.65"/><circle cx="655.22" cy="245.83" r="3.65"/><circle cx="664.2" cy="250.04" r="3.65"/><circle cx="673.17" cy="254.26" r="3.65"/><circle cx="682.15" cy="258.47" r="3.65"/><circle cx="691.12" cy="262.66" r="3.65"/><circle cx="700.1" cy="266.8" r="3.65"/><circle cx="709.08" cy="270.95" r="3.65"/><circle cx="718.05" cy="275.14" r="3.65"/><circle cx="727.03" cy="279.34" r="3.65"/><circle cx="736" cy="283.52" r="3.65"/><circle cx="744.98" cy="287.66" r="3.65"/><circle cx="753.95" cy="291.72" r="3.65"/><circle cx="762.93" cy="295.68" r="3.65"/><circle cx="771.91" cy="299.5" r="3.65"/><circle cx="780.88" cy="303.23" r="3.65"/><circle cx="789.86" cy="306.91" r="3.65"/><circle cx="798.83" cy="310.54" r="3.65"/><circle cx="807.81" cy="314.08" r="3.65"/><circle cx="816.78" cy="317.53" r="3.65"/><circle cx="825.76" cy="320.86" r="3.65"/><circle cx="834.74" cy="324.06" r="3.65"/><circle cx="843.71" cy="327.1" r="3.65"/><circle cx="852.69" cy="330.02" r="3.65"/><circle cx="861.66" cy="332.85" r="3.65"/><circle cx="870.64" cy="335.6" r="3.65"/><circle cx="879.62" cy="338.25" r="3.65"/><circle cx="888.59" cy="340.81" r="3.65"/><circle cx="897.57" cy="343.25" r="3.65"/><circle cx="906.54" cy="345.59" r="3.65"/><circle cx="915.52" cy="347.8" r="3.65"/><circle cx="924.49" cy="349.93" r="3.65"/><circle cx="933.47" cy="351.99" r="3.65"/><circle cx="942.45" cy="353.99" r="3.65"/><circle cx="951.42" cy="355.92" r="3.65"/><circle cx="960.4" cy="357.78" r="3.65"/><circle cx="969.37" cy="359.55" r="3.65"/><circle cx="978.35" cy="361.23" r="3.65"/><circle cx="987.32" cy="362.81" r="3.65"/><circle cx="996.3" cy="364.3" r="3.65"/></g>
<g fill="#c9e196"><circle cx="107.7" cy="123.7" r="3.65"/><circle cx="116.68" cy="125.22" r="3.65"/><circle cx="125.65" cy="126.71" r="3.65"/><circle cx="134.63" cy="128.17" r="3.65"/><circle cx="143.6" cy="129.6" r="3.65"/><circle cx="152.58" cy="130.99" r="3.65"/><circle cx="161.55" cy="132.36" r="3.65"/><circle cx="170.53" cy="133.69" r="3.65"/><circle cx="179.51" cy="135" r="3.65"/><circle cx="188.48" cy="136.28" r="3.65"/><circle cx="197.46" cy="137.52" r="3.65"/><circle cx="206.43" cy="138.76" r="3.65"/><circle cx="215.41" cy="140" r="3.65"/><circle cx="224.38" cy="141.25" r="3.65"/><circle cx="233.36" cy="142.5" r="3.65"/><circle cx="242.34" cy="143.75" r="3.65"/><circle cx="251.31" cy="145" r="3.65"/><circle cx="260.29" cy="146.24" r="3.65"/><circle cx="269.26" cy="147.45" r="3.65"/><circle cx="278.24" cy="148.65" r="3.65"/><circle cx="287.22" cy="149.85" r="3.65"/><circle cx="296.19" cy="151.07" r="3.65"/><circle cx="305.17" cy="152.32" r="3.65"/><circle cx="314.14" cy="153.61" r="3.65"/><circle cx="323.12" cy="154.97" r="3.65"/><circle cx="332.09" cy="156.4" r="3.65"/><circle cx="341.07" cy="157.9" r="3.65"/><circle cx="350.05" cy="159.47" r="3.65"/><circle cx="359.02" cy="161.1" r="3.65"/><circle cx="368" cy="162.81" r="3.65"/><circle cx="376.97" cy="164.58" r="3.65"/><circle cx="385.95" cy="166.44" r="3.65"/><circle cx="394.92" cy="168.38" r="3.65"/><circle cx="403.9" cy="170.4" r="3.65"/><circle cx="412.88" cy="172.53" r="3.65"/><circle cx="421.85" cy="174.79" r="3.65"/><circle cx="430.83" cy="177.16" r="3.65"/><circle cx="439.8" cy="179.64" r="3.65"/><circle cx="448.78" cy="182.23" r="3.65"/><circle cx="457.75" cy="184.93" r="3.65"/><circle cx="466.73" cy="187.72" r="3.65"/><circle cx="475.71" cy="190.6" r="3.65"/><circle cx="484.68" cy="193.61" r="3.65"/><circle cx="493.66" cy="196.79" r="3.65"/><circle cx="502.63" cy="200.12" r="3.65"/><circle cx="511.61" cy="203.58" r="3.65"/><circle cx="520.58" cy="207.16" r="3.65"/><circle cx="529.56" cy="210.83" r="3.65"/><circle cx="538.54" cy="214.58" r="3.65"/><circle cx="547.51" cy="218.4" r="3.65"/><circle cx="556.49" cy="222.32" r="3.65"/><circle cx="565.46" cy="226.39" r="3.65"/><circle cx="574.44" cy="230.58" r="3.65"/><circle cx="583.42" cy="234.88" r="3.65"/><circle cx="592.39" cy="239.27" r="3.65"/><circle cx="601.37" cy="243.73" r="3.65"/><circle cx="610.34" cy="248.25" r="3.65"/><circle cx="619.32" cy="252.8" r="3.65"/><circle cx="628.29" cy="257.43" r="3.65"/><circle cx="637.27" cy="262.18" r="3.65"/><circle cx="646.25" cy="267.03" r="3.65"/><circle cx="655.22" cy="271.94" r="3.65"/><circle cx="664.2" cy="276.9" r="3.65"/><circle cx="673.17" cy="281.88" r="3.65"/><circle cx="682.15" cy="286.85" r="3.65"/><circle cx="691.12" cy="291.8" r="3.65"/><circle cx="700.1" cy="296.7" r="3.65"/><circle cx="709.08" cy="301.61" r="3.65"/><circle cx="718.05" cy="306.57" r="3.65"/><circle cx="727.03" cy="311.56" r="3.65"/><circle cx="736" cy="316.53" r="3.65"/><circle cx="744.98" cy="321.45" r="3.65"/><circle cx="753.95" cy="326.28" r="3.65"/><circle cx="762.93" cy="330.97" r="3.65"/><circle cx="771.91" cy="335.5" r="3.65"/><circle cx="780.88" cy="339.91" r="3.65"/><circle cx="789.86" cy="344.26" r="3.65"/><circle cx="798.83" cy="348.55" r="3.65"/><circle cx="807.81" cy="352.73" r="3.65"/><circle cx="816.78" cy="356.8" r="3.65"/><circle cx="825.76" cy="360.73" r="3.65"/><circle cx="834.74" cy="364.51" r="3.65"/><circle cx="843.71" cy="368.1" r="3.65"/><circle cx="852.69" cy="371.55" r="3.65"/><circle cx="861.66" cy="374.89" r="3.65"/><circle cx="870.64" cy="378.13" r="3.65"/><circle cx="879.62" cy="381.26" r="3.65"/><circle cx="888.59" cy="384.28" r="3.65"/><circle cx="897.57" cy="387.18" r="3.65"/><circle cx="906.54" cy="389.95" r="3.65"/><circle cx="915.52" cy="392.6" r="3.65"/><circle cx="924.49" cy="395.15" r="3.65"/><circle cx="933.47" cy="397.64" r="3.65"/><circle cx="942.45" cy="400.05" r="3.65"/><circle cx="951.42" cy="402.37" r="3.65"/><circle cx="960.4" cy="404.62" r="3.65"/><circle cx="969.37" cy="406.77" r="3.65"/><circle cx="978.35" cy="408.82" r="3.65"/><circle cx="987.32" cy="410.76" r="3.65"/><circle cx="996.3" cy="412.6" r="3.65"/></g>
<g fill="#ee6b3c"><circle cx="107.7" cy="128.3" r="3.65"/><circle cx="116.68" cy="130.1" r="3.65"/><circle cx="125.65" cy="131.85" r="3.65"/><circle cx="134.63" cy="133.55" r="3.65"/><circle cx="143.6" cy="135.2" r="3.65"/><circle cx="152.58" cy="136.77" r="3.65"/><circle cx="161.55" cy="138.28" r="3.65"/><circle cx="170.53" cy="139.77" r="3.65"/><circle cx="179.51" cy="141.3" r="3.65"/><circle cx="188.48" cy="142.9" r="3.65"/><circle cx="197.46" cy="144.53" r="3.65"/><circle cx="206.43" cy="146.14" r="3.65"/><circle cx="215.41" cy="147.7" r="3.65"/><circle cx="224.38" cy="149.17" r="3.65"/><circle cx="233.36" cy="150.58" r="3.65"/><circle cx="242.34" cy="151.98" r="3.65"/><circle cx="251.31" cy="153.4" r="3.65"/><circle cx="260.29" cy="154.83" r="3.65"/><circle cx="269.26" cy="156.24" r="3.65"/><circle cx="278.24" cy="157.64" r="3.65"/><circle cx="287.22" cy="159.05" r="3.65"/><circle cx="296.19" cy="160.48" r="3.65"/><circle cx="305.17" cy="161.95" r="3.65"/><circle cx="314.14" cy="163.47" r="3.65"/><circle cx="323.12" cy="165.04" r="3.65"/><circle cx="332.09" cy="166.7" r="3.65"/><circle cx="341.07" cy="168.43" r="3.65"/><circle cx="350.05" cy="170.22" r="3.65"/><circle cx="359.02" cy="172.08" r="3.65"/><circle cx="368" cy="174.01" r="3.65"/><circle cx="376.97" cy="176.02" r="3.65"/><circle cx="385.95" cy="178.12" r="3.65"/><circle cx="394.92" cy="180.31" r="3.65"/><circle cx="403.9" cy="182.6" r="3.65"/><circle cx="412.88" cy="185.01" r="3.65"/><circle cx="421.85" cy="187.56" r="3.65"/><circle cx="430.83" cy="190.25" r="3.65"/><circle cx="439.8" cy="193.05" r="3.65"/><circle cx="448.78" cy="195.98" r="3.65"/><circle cx="457.75" cy="199.02" r="3.65"/><circle cx="466.73" cy="202.16" r="3.65"/><circle cx="475.71" cy="205.4" r="3.65"/><circle cx="484.68" cy="208.78" r="3.65"/><circle cx="493.66" cy="212.34" r="3.65"/><circle cx="502.63" cy="216.06" r="3.65"/><circle cx="511.61" cy="219.92" r="3.65"/><circle cx="520.58" cy="223.91" r="3.65"/><circle cx="529.56" cy="228.01" r="3.65"/><circle cx="538.54" cy="232.22" r="3.65"/><circle cx="547.51" cy="236.5" r="3.65"/><circle cx="556.49" cy="240.91" r="3.65"/><circle cx="565.46" cy="245.5" r="3.65"/><circle cx="574.44" cy="250.24" r="3.65"/><circle cx="583.42" cy="255.11" r="3.65"/><circle cx="592.39" cy="260.08" r="3.65"/><circle cx="601.37" cy="265.13" r="3.65"/><circle cx="610.34" cy="270.25" r="3.65"/><circle cx="619.32" cy="275.4" r="3.65"/><circle cx="628.29" cy="280.64" r="3.65"/><circle cx="637.27" cy="286.02" r="3.65"/><circle cx="646.25" cy="291.5" r="3.65"/><circle cx="655.22" cy="297.06" r="3.65"/><circle cx="664.2" cy="302.67" r="3.65"/><circle cx="673.17" cy="308.31" r="3.65"/><circle cx="682.15" cy="313.95" r="3.65"/><circle cx="691.12" cy="319.55" r="3.65"/><circle cx="700.1" cy="325.1" r="3.65"/><circle cx="709.08" cy="330.66" r="3.65"/><circle cx="718.05" cy="336.28" r="3.65"/><circle cx="727.03" cy="341.93" r="3.65"/><circle cx="736" cy="347.56" r="3.65"/><circle cx="744.98" cy="353.14" r="3.65"/><circle cx="753.95" cy="358.61" r="3.65"/><circle cx="762.93" cy="363.95" r="3.65"/><circle cx="771.91" cy="369.1" r="3.65"/><circle cx="780.88" cy="374.13" r="3.65"/><circle cx="789.86" cy="379.1" r="3.65"/><circle cx="798.83" cy="383.99" r="3.65"/><circle cx="807.81" cy="388.77" r="3.65"/><circle cx="816.78" cy="393.43" r="3.65"/><circle cx="825.76" cy="397.94" r="3.65"/><circle cx="834.74" cy="402.27" r="3.65"/><circle cx="843.71" cy="406.4" r="3.65"/><circle cx="852.69" cy="410.38" r="3.65"/><circle cx="861.66" cy="414.25" r="3.65"/><circle cx="870.64" cy="418.02" r="3.65"/><circle cx="879.62" cy="421.66" r="3.65"/><circle cx="888.59" cy="425.16" r="3.65"/><circle cx="897.57" cy="428.51" r="3.65"/><circle cx="906.54" cy="431.69" r="3.65"/><circle cx="915.52" cy="434.7" r="3.65"/><circle cx="924.49" cy="437.58" r="3.65"/><circle cx="933.47" cy="440.37" r="3.65"/><circle cx="942.45" cy="443.08" r="3.65"/><circle cx="951.42" cy="445.68" r="3.65"/><circle cx="960.4" cy="448.18" r="3.65"/><circle cx="969.37" cy="450.56" r="3.65"/><circle cx="978.35" cy="452.81" r="3.65"/><circle cx="987.32" cy="454.93" r="3.65"/><circle cx="996.3" cy="456.9" r="3.65"/></g>
<g fill="#e8232a"><circle cx="107.7" cy="133.5" r="3.65"/><circle cx="116.68" cy="135.28" r="3.65"/><circle cx="125.65" cy="137.05" r="3.65"/><circle cx="134.63" cy="138.82" r="3.65"/><circle cx="143.6" cy="140.6" r="3.65"/><circle cx="152.58" cy="142.38" r="3.65"/><circle cx="161.55" cy="144.17" r="3.65"/><circle cx="170.53" cy="145.95" r="3.65"/><circle cx="179.51" cy="147.7" r="3.65"/><circle cx="188.48" cy="149.42" r="3.65"/><circle cx="197.46" cy="151.12" r="3.65"/><circle cx="206.43" cy="152.81" r="3.65"/><circle cx="215.41" cy="154.5" r="3.65"/><circle cx="224.38" cy="156.2" r="3.65"/><circle cx="233.36" cy="157.89" r="3.65"/><circle cx="242.34" cy="159.59" r="3.65"/><circle cx="251.31" cy="161.3" r="3.65"/><circle cx="260.29" cy="163" r="3.65"/><circle cx="269.26" cy="164.67" r="3.65"/><circle cx="278.24" cy="166.32" r="3.65"/><circle cx="287.22" cy="167.99" r="3.65"/><circle cx="296.19" cy="169.67" r="3.65"/><circle cx="305.17" cy="171.39" r="3.65"/><circle cx="314.14" cy="173.15" r="3.65"/><circle cx="323.12" cy="174.99" r="3.65"/><circle cx="332.09" cy="176.9" r="3.65"/><circle cx="341.07" cy="178.88" r="3.65"/><circle cx="350.05" cy="180.93" r="3.65"/><circle cx="359.02" cy="183.03" r="3.65"/><circle cx="368" cy="185.21" r="3.65"/><circle cx="376.97" cy="187.47" r="3.65"/><circle cx="385.95" cy="189.82" r="3.65"/><circle cx="394.92" cy="192.26" r="3.65"/><circle cx="403.9" cy="194.8" r="3.65"/><circle cx="412.88" cy="197.45" r="3.65"/><circle cx="421.85" cy="200.23" r="3.65"/><circle cx="430.83" cy="203.13" r="3.65"/><circle cx="439.8" cy="206.15" r="3.65"/><circle cx="448.78" cy="209.29" r="3.65"/><circle cx="457.75" cy="212.57" r="3.65"/><circle cx="466.73" cy="215.97" r="3.65"/><circle cx="475.71" cy="219.5" r="3.65"/><circle cx="484.68" cy="223.21" r="3.65"/><circle cx="493.66" cy="227.14" r="3.65"/><circle cx="502.63" cy="231.26" r="3.65"/><circle cx="511.61" cy="235.56" r="3.65"/><circle cx="520.58" cy="240" r="3.65"/><circle cx="529.56" cy="244.57" r="3.65"/><circle cx="538.54" cy="249.24" r="3.65"/><circle cx="547.51" cy="254" r="3.65"/><circle cx="556.49" cy="258.9" r="3.65"/><circle cx="565.46" cy="263.98" r="3.65"/><circle cx="574.44" cy="269.24" r="3.65"/><circle cx="583.42" cy="274.64" r="3.65"/><circle cx="592.39" cy="280.15" r="3.65"/><circle cx="601.37" cy="285.74" r="3.65"/><circle cx="610.34" cy="291.4" r="3.65"/><circle cx="619.32" cy="297.1" r="3.65"/><circle cx="628.29" cy="302.89" r="3.65"/><circle cx="637.27" cy="308.82" r="3.65"/><circle cx="646.25" cy="314.86" r="3.65"/><circle cx="655.22" cy="320.98" r="3.65"/><circle cx="664.2" cy="327.16" r="3.65"/><circle cx="673.17" cy="333.36" r="3.65"/><circle cx="682.15" cy="339.56" r="3.65"/><circle cx="691.12" cy="345.71" r="3.65"/><circle cx="700.1" cy="351.8" r="3.65"/><circle cx="709.08" cy="357.88" r="3.65"/><circle cx="718.05" cy="364.02" r="3.65"/><circle cx="727.03" cy="370.18" r="3.65"/><circle cx="736" cy="376.32" r="3.65"/><circle cx="744.98" cy="382.4" r="3.65"/><circle cx="753.95" cy="388.38" r="3.65"/><circle cx="762.93" cy="394.22" r="3.65"/><circle cx="771.91" cy="399.9" r="3.65"/><circle cx="780.88" cy="405.48" r="3.65"/><circle cx="789.86" cy="411.02" r="3.65"/><circle cx="798.83" cy="416.5" r="3.65"/><circle cx="807.81" cy="421.88" r="3.65"/><circle cx="816.78" cy="427.1" r="3.65"/><circle cx="825.76" cy="432.14" r="3.65"/><circle cx="834.74" cy="436.95" r="3.65"/><circle cx="843.71" cy="441.5" r="3.65"/><circle cx="852.69" cy="445.83" r="3.65"/><circle cx="861.66" cy="450.02" r="3.65"/><circle cx="870.64" cy="454.07" r="3.65"/><circle cx="879.62" cy="457.96" r="3.65"/><circle cx="888.59" cy="461.71" r="3.65"/><circle cx="897.57" cy="465.3" r="3.65"/><circle cx="906.54" cy="468.73" r="3.65"/><circle cx="915.52" cy="472" r="3.65"/><circle cx="924.49" cy="475.15" r="3.65"/><circle cx="933.47" cy="478.21" r="3.65"/><circle cx="942.45" cy="481.17" r="3.65"/><circle cx="951.42" cy="484.03" r="3.65"/><circle cx="960.4" cy="486.78" r="3.65"/><circle cx="969.37" cy="489.41" r="3.65"/><circle cx="978.35" cy="491.91" r="3.65"/><circle cx="987.32" cy="494.28" r="3.65"/><circle cx="996.3" cy="496.5" r="3.65"/></g>
<path d="M245.4 287.3h4.6M245.4 410.3h4.6M310.66 459.4v-4.8M403.88 459.4v-4.8M245.4 287.3V459.4H497.1" fill="none" stroke="#4a4a4c" stroke-width="1.1"/>
<clipPath id="ic"><rect x="230" y="270" width="290" height="189.4"/></clipPath>
<g clip-path="url(#ic)" stroke-linecap="round" stroke-width="5.1"><line x1="245.4" y1="291.24" x2="245.4" y2="294.9" stroke="#5752a2"/><line x1="273.37" y1="295.1" x2="273.37" y2="308.04" stroke="#2a6bb4"/><line x1="301.33" y1="298.6" x2="301.33" y2="324.92" stroke="#1a94c7"/><line x1="329.3" y1="301.73" x2="329.3" y2="344.54" stroke="#3ba99b"/><line x1="357.27" y1="304.5" x2="357.27" y2="365.64" stroke="#5ab592"/><line x1="385.23" y1="306.84" x2="385.23" y2="386.87" stroke="#89c59c"/><line x1="413.2" y1="309.01" x2="413.2" y2="407.61" stroke="#a9d394"/><line x1="441.17" y1="310.9" x2="441.17" y2="427.02" stroke="#c9e196"/><line x1="469.13" y1="312.74" x2="469.13" y2="444.83" stroke="#ee6b3c"/><line x1="497.1" y1="314.83" x2="497.1" y2="460.75" stroke="#e8232a"/></g>
<text x="201.98" y="295.30" font-family='"Liberation Sans", sans-serif' font-size="27" fill="#231f20" stroke="#231f20" stroke-width="0.3">1.0</text>
<text x="202.05" y="421.40" font-family='"Liberation Sans", sans-serif' font-size="27" fill="#231f20" stroke="#231f20" stroke-width="0.3">0.5</text>
<text x="295.76" y="491.50" font-family='"Liberation Sans", sans-serif' font-size="27" fill="#231f20" stroke="#231f20" stroke-width="0.3">10</text>
<text x="389.32" y="491.50" font-family='"Liberation Sans", sans-serif' font-size="27" fill="#231f20" stroke="#231f20" stroke-width="0.3">20</text>
<text x="482.72" y="491.50" font-family='"Liberation Sans", sans-serif' font-size="27" fill="#231f20" stroke="#231f20" stroke-width="0.3">30</text>
<g transform="translate(186.3 404.3) rotate(-90)"><text x="-1.35" y="0.00" font-family='"Liberation Serif", serif' font-size="27" font-style="italic" fill="#231f20" stroke="#231f20" stroke-width="0.3">θ</text><text x="13.08" y="0.00" font-family='"Liberation Sans", sans-serif' font-size="27.5" fill="#231f20" stroke="#231f20" stroke-width="0.3">(</text><text x="23.09" y="0.00" font-family='"Liberation Sans", sans-serif' font-size="27.5" font-style="italic" fill="#231f20" stroke="#231f20" stroke-width="0.3">C</text><text x="40.27" y="7.90" font-family='"Liberation Sans", sans-serif' font-size="19" fill="#231f20" stroke="#231f20" stroke-width="0.3">1</text><text x="45.87" y="-14.00" font-family='"Liberation Serif", serif' font-size="19" font-style="italic" fill="#231f20" stroke="#231f20" stroke-width="0.3">τ</text><text x="52.79" y="0.00" font-family='"Liberation Sans", sans-serif' font-size="27.5" fill="#231f20" stroke="#231f20" stroke-width="0.3">)</text></g>
<text x="363.69" y="529.60" font-family='"Liberation Serif", serif' font-size="27" font-style="italic" fill="#231f20" stroke="#231f20" stroke-width="0.3">δ</text><line x1="367" y1="507.7" x2="379.1" y2="507.7" stroke="#231f20" stroke-width="1.3"/>
<text x="-1.15" y="700.60" font-family='"Liberation Sans", sans-serif' font-size="31.5" font-weight="bold" fill="#231f20" stroke="#231f20" stroke-width="0.3">b</text>
<text x="370.95" y="713.70" font-family='"Liberation Sans", sans-serif' font-size="27" fill="#231f20" stroke="#231f20" stroke-width="0.3">Cumulative distribution functions</text>
<path d="M109.7 744.9h6.7M109.7 744.9V1233.8" fill="none" stroke="#444446" stroke-width="1.1"/>
<path d="M109.7 1136.02h6.7M109.7 1038.24h6.7M109.7 940.46h6.7M109.7 842.68h6.7" fill="none" stroke="#444446" stroke-width="1.1"/>
<path d="M109.7 1233.8v-4.7M166.46 1233.8v-2.8M199.66 1233.8v-2.8M223.22 1233.8v-2.8M241.49 1233.8v-2.8M256.42 1233.8v-2.8M269.04 1233.8v-2.8M279.98 1233.8v-2.8M289.62 1233.8v-2.8M298.25 1233.8v-4.7M355.01 1233.8v-2.8M388.21 1233.8v-2.8M411.77 1233.8v-2.8M430.04 1233.8v-2.8M444.97 1233.8v-2.8M457.59 1233.8v-2.8M468.53 1233.8v-2.8M478.17 1233.8v-2.8M486.8 1233.8v-4.7" fill="none" stroke="#3a3a3c" stroke-width="1.1"/>
<path d="M109.7 1233.8H486.8" fill="none" stroke="#807f81" stroke-width="1.4"/>
<path d="M109.7 903.84V871.49H166.46V854.05H199.66V842.08H223.22V832.98H241.49V825.67H256.42V819.57H269.04V814.37H279.98V809.84H289.62V805.84H298.25V802.28H306.05V799.07H313.18V796.16H319.73V793.5H325.8V791.06H331.45V788.82H336.74V786.74H341.7V784.81H346.38V783.01H350.81V781.34H355.01V779.77H359V778.29H362.81V776.9H366.45V775.6H369.94V774.37H373.28V773.2H376.49V772.1H379.58V771.06H382.56V770.06H385.44V769.12H388.21V768.23H390.9V767.37H393.5V766.56H396.02V765.79H398.46V765.05H400.83V764.34H403.14V763.67H405.38V763.02H407.57V762.4H409.7V761.81H411.77V761.24H413.79V760.7H415.76V760.18H417.69V759.68H419.57V759.2H421.41V758.73H423.21V758.29H424.97V757.86H426.7V757.45H428.39V757.06H430.04V756.68H431.66V756.31H433.25V755.96H434.81V755.62H436.34V755.29H437.85V754.97H439.32V754.67H440.77V754.37H442.19V754.09H443.59V753.81H444.97V753.55H446.32V753.29H447.66V753.04H448.97V752.8H450.26V752.57H451.52V752.35H452.78V752.13H454.01V751.92H455.22V751.72H456.41V751.53H457.59V751.34H458.75V751.15H459.9V750.98H461.03V750.8H462.14V750.64H463.24V750.48H464.33V750.32H465.4V750.17H466.45V750.02H467.5V749.88H468.53V749.74H469.54V749.61H470.55V749.48H471.54V749.35H472.52V749.23H473.49V749.11H474.45V749H475.4V748.89H476.33V748.78H477.26V748.68H478.17V748.57H479.08V748.48H479.97V748.38H480.86V748.29H481.73V748.2H482.6V748.11H483.46V748.02H484.31V747.94H485.15V747.86H485.98V747.78H486.8V747.71" fill="none" stroke="#153e96" stroke-width="2.4"/>
<path d="M109.7 1086.39V1019.39H166.46V973.7H199.66V939.09H223.22V911.56H241.49V889.04H256.42V870.27H269.04V854.42H279.98V840.92H289.62V829.32H298.25V819.31H306.05V810.62H313.18V803.05H319.73V796.43H325.8V790.63H331.45V785.53H336.74V781.04H341.7V777.08H346.38V773.58H350.81V770.48H355.01V767.73H359V765.3H362.81V763.13H366.45V761.2H369.94V759.49H373.28V757.96H376.49V756.6H379.58V755.38H382.56V754.3H385.44V753.33H388.21V752.46H390.9V751.69H393.5V750.99H396.02V750.37H398.46V749.82H400.83V749.32H403.14V748.87H405.38V748.47H407.57V748.11H409.7V747.79H411.77V747.5H413.79V747.24H415.76V747.01H417.69V746.8H419.57V746.61H421.41V746.44H423.21V746.29H424.97V746.15H426.7V746.02H428.39V745.91H430.04V745.81H431.66V745.72H433.25V745.64H434.81V745.57H436.34V745.5H437.85V745.44H439.32V745.39H440.77V745.34H442.19V745.3H443.59V745.26H444.97V745.23H446.32V745.19H447.66V745.17H448.97V745.14H450.26V745.12H451.52V745.1H452.78V745.08H454.01V745.06H455.22V745.04H456.41V745.03H457.59V745.02H458.75V745.01H459.9V745H461.03V744.99H462.14V744.98H463.24V744.97H464.33V744.96H465.4V744.96H466.45V744.95H467.5V744.95H468.53V744.94H469.54V744.94H470.55V744.93H471.54V744.93H472.52V744.93H473.49V744.93H474.45V744.92H475.4V744.92H476.33V744.92H477.26V744.92H478.17V744.92H479.08V744.91H479.97V744.91H480.86V744.91H481.73V744.91H482.6V744.91H483.46V744.91H484.31V744.91H485.15V744.91H485.98V744.91H486.8V744.91" fill="none" stroke="#b3b4b7" stroke-width="2.4"/>
<path d="M109.7 1152.32V1084.41H166.46V1027.83H199.66V980.67H223.22V941.38H241.49V908.63H256.42V881.34H269.04V858.6H279.98V839.65H289.62V823.86H298.25V810.7H306.05V799.73H313.18V790.59H319.73V782.98H325.8V776.63H331.45V771.34H336.74V766.94H341.7V763.26H346.38V760.2H350.81V757.65H355.01V755.53H359V753.76H362.81V752.28H366.45V751.05H369.94V750.02H373.28V749.17H376.49V748.46H379.58V747.87H382.56V747.37H385.44V746.96H388.21V746.62H390.9V746.33H393.5V746.09H396.02V745.89H398.46V745.73H400.83V745.59H403.14V745.47H405.38V745.38H407.57V745.3H409.7V745.23H411.77V745.18H413.79V745.13H415.76V745.09H417.69V745.06H419.57V745.03H421.41V745.01H423.21V744.99H424.97V744.98H426.7V744.96H428.39V744.95H430.04V744.94H431.66V744.94H433.25V744.93H434.81V744.93H436.34V744.92H437.85V744.92H439.32V744.91H440.77V744.91H442.19V744.91H443.59V744.91H444.97V744.91H446.32V744.91H447.66V744.91H448.97V744.9H450.26V744.9H451.52V744.9H452.78V744.9H454.01V744.9H455.22V744.9H456.41V744.9H457.59V744.9H458.75V744.9H459.9V744.9H461.03V744.9H462.14V744.9H463.24V744.9H464.33V744.9H465.4V744.9H466.45V744.9H467.5V744.9H468.53V744.9H469.54V744.9H470.55V744.9H471.54V744.9H472.52V744.9H473.49V744.9H474.45V744.9H475.4V744.9H476.33V744.9H477.26V744.9H478.17V744.9H479.08V744.9H479.97V744.9H480.86V744.9H481.73V744.9H482.6V744.9H483.46V744.9H484.31V744.9H485.15V744.9H485.98V744.9H486.8V744.9" fill="none" stroke="#b3b4b7" stroke-width="2.4"/>
<path d="M109.7 1225.32V1197.06H166.46V1145.25H199.66V1076.17H223.22V1001.33H241.49V931.48H256.42V873.27H269.04V828.92H279.98V797.51H289.62V776.56H298.25V763.3H306.05V755.26H313.18V750.57H319.73V747.93H325.8V746.48H331.45V745.71H336.74V745.3H341.7V745.1H346.38V745H350.81V744.95H355.01V744.92H359V744.91H362.81V744.9H366.45V744.9H369.94V744.9H373.28V744.9H376.49V744.9H379.58V744.9H382.56V744.9H385.44V744.9H388.21V744.9H390.9V744.9H393.5V744.9H396.02V744.9H398.46V744.9H400.83V744.9H403.14V744.9H405.38V744.9H407.57V744.9H409.7V744.9H411.77V744.9H413.79V744.9H415.76V744.9H417.69V744.9H419.57V744.9H421.41V744.9H423.21V744.9H424.97V744.9H426.7V744.9H428.39V744.9H430.04V744.9H431.66V744.9H433.25V744.9H434.81V744.9H436.34V744.9H437.85V744.9H439.32V744.9H440.77V744.9H442.19V744.9H443.59V744.9H444.97V744.9H446.32V744.9H447.66V744.9H448.97V744.9H450.26V744.9H451.52V744.9H452.78V744.9H454.01V744.9H455.22V744.9H456.41V744.9H457.59V744.9H458.75V744.9H459.9V744.9H461.03V744.9H462.14V744.9H463.24V744.9H464.33V744.9H465.4V744.9H466.45V744.9H467.5V744.9H468.53V744.9H469.54V744.9H470.55V744.9H471.54V744.9H472.52V744.9H473.49V744.9H474.45V744.9H475.4V744.9H476.33V744.9H477.26V744.9H478.17V744.9H479.08V744.9H479.97V744.9H480.86V744.9H481.73V744.9H482.6V744.9H483.46V744.9H484.31V744.9H485.15V744.9H485.98V744.9H486.8V744.9" fill="none" stroke="#b3b4b7" stroke-width="2.4"/>
<path d="M109.7 1228.16V1205.62H166.46V1158.27H199.66V1088.83H223.22V1008.97H241.49V932.3H256.42V868.41H269.04V820.95H279.98V788.92H289.62V768.98H298.25V757.42H306.05V751.12H313.18V747.86H319.73V746.26H325.8V745.5H331.45V745.16H336.74V745.01H341.7V744.94H346.38V744.92H350.81V744.91H355.01V744.9H359V744.9H362.81V744.9H366.45V744.9H369.94V744.9H373.28V744.9H376.49V744.9H379.58V744.9H382.56V744.9H385.44V744.9H388.21V744.9H390.9V744.9H393.5V744.9H396.02V744.9H398.46V744.9H400.83V744.9H403.14V744.9H405.38V744.9H407.57V744.9H409.7V744.9H411.77V744.9H413.79V744.9H415.76V744.9H417.69V744.9H419.57V744.9H421.41V744.9H423.21V744.9H424.97V744.9H426.7V744.9H428.39V744.9H430.04V744.9H431.66V744.9H433.25V744.9H434.81V744.9H436.34V744.9H437.85V744.9H439.32V744.9H440.77V744.9H442.19V744.9H443.59V744.9H444.97V744.9H446.32V744.9H447.66V744.9H448.97V744.9H450.26V744.9H451.52V744.9H452.78V744.9H454.01V744.9H455.22V744.9H456.41V744.9H457.59V744.9H458.75V744.9H459.9V744.9H461.03V744.9H462.14V744.9H463.24V744.9H464.33V744.9H465.4V744.9H466.45V744.9H467.5V744.9H468.53V744.9H469.54V744.9H470.55V744.9H471.54V744.9H472.52V744.9H473.49V744.9H474.45V744.9H475.4V744.9H476.33V744.9H477.26V744.9H478.17V744.9H479.08V744.9H479.97V744.9H480.86V744.9H481.73V744.9H482.6V744.9H483.46V744.9H484.31V744.9H485.15V744.9H485.98V744.9H486.8V744.9" fill="none" stroke="#e8212a" stroke-width="2.4"/>
<text x="56.48" y="754.40" font-family='"Liberation Sans", sans-serif' font-size="27" fill="#231f20" stroke="#231f20" stroke-width="0.3">1.0</text>
<text x="56.62" y="852.18" font-family='"Liberation Sans", sans-serif' font-size="27" fill="#231f20" stroke="#231f20" stroke-width="0.3">0.8</text>
<text x="56.62" y="949.96" font-family='"Liberation Sans", sans-serif' font-size="27" fill="#231f20" stroke="#231f20" stroke-width="0.3">0.6</text>
<text x="56.21" y="1047.74" font-family='"Liberation Sans", sans-serif' font-size="27" fill="#231f20" stroke="#231f20" stroke-width="0.3">0.4</text>
<text x="56.82" y="1145.52" font-family='"Liberation Sans", sans-serif' font-size="27" fill="#231f20" stroke="#231f20" stroke-width="0.3">0.2</text>
<text x="79.03" y="1243.30" font-family='"Liberation Sans", sans-serif' font-size="27" fill="#231f20" stroke="#231f20" stroke-width="0.3">0</text>
<text x="90.04" y="1272.00" font-family='"Liberation Sans", sans-serif' font-size="27" fill="#231f20" stroke="#231f20" stroke-width="0.3">10</text><text x="119.76" y="1259.60" font-family='"Liberation Sans", sans-serif' font-size="18.5" fill="#231f20" stroke="#231f20" stroke-width="0.3">0</text>
<text x="279.01" y="1272.00" font-family='"Liberation Sans", sans-serif' font-size="27" fill="#231f20" stroke="#231f20" stroke-width="0.3">10</text><text x="308.08" y="1259.60" font-family='"Liberation Sans", sans-serif' font-size="18.5" fill="#231f20" stroke="#231f20" stroke-width="0.3">1</text>
<text x="467.35" y="1272.00" font-family='"Liberation Sans", sans-serif' font-size="27" fill="#231f20" stroke="#231f20" stroke-width="0.3">10</text><text x="496.88" y="1259.60" font-family='"Liberation Sans", sans-serif' font-size="18.5" fill="#231f20" stroke="#231f20" stroke-width="0.3">2</text>
<g transform="translate(20.3 1007.6) rotate(-90)"><text x="-0.82" y="0.00" font-family='"Liberation Sans", sans-serif' font-size="27.5" font-style="italic" fill="#231f20" stroke="#231f20" stroke-width="0.3">F</text><text x="13.85" y="8.90" font-family='"Liberation Serif", serif' font-size="20" font-style="italic" fill="#231f20" stroke="#231f20" stroke-width="0.3">τ</text><text x="20.60" y="10.00" font-family='"Liberation Sans", sans-serif' font-size="20" fill="#231f20" stroke="#231f20" stroke-width="0.3">−</text><text x="32.30" y="8.90" font-family='"Liberation Sans", sans-serif' font-size="20" font-style="italic" fill="#231f20" stroke="#231f20" stroke-width="0.3">t</text></g>
<text x="256.36" y="1321.90" font-family='"Liberation Sans", sans-serif' font-size="27.5" font-style="italic" fill="#231f20" stroke="#231f20" stroke-width="0.3">t</text>
<line x1="273.5" y1="1302.5" x2="273.5" y2="1328" stroke="#231f20" stroke-width="1.7"/>
<text x="283.99" y="1321.90" font-family='"Liberation Serif", serif' font-size="27" font-style="italic" fill="#231f20" stroke="#231f20" stroke-width="0.3">δ</text><line x1="286" y1="1299.7" x2="300.5" y2="1299.7" stroke="#231f20" stroke-width="1.3"/>
<text x="302.85" y="1321.90" font-family='"Liberation Sans", sans-serif' font-size="27" fill="#231f20" stroke="#231f20" stroke-width="0.3">=</text>
<text x="326.12" y="1321.90" font-family='"Liberation Sans", sans-serif' font-size="27" fill="#231f20" stroke="#231f20" stroke-width="0.3">5</text>
<text x="143.03" y="805.70" font-family='"Liberation Sans", sans-serif' font-size="27.5" fill="#231f20" stroke="#231f20" stroke-width="0.3">Rising</text>
<text x="145.12" y="837.30" font-family='"Liberation Sans", sans-serif' font-size="27.3" font-style="italic" fill="#231f20" stroke="#231f20" stroke-width="0.3">k</text>
<line x1="174.5" y1="819.4" x2="273.42" y2="918.88" stroke="#151515" stroke-width="1.8"/>
<path d="M281.5 927L266.38 922.57L273.42 918.88L277.16 911.86Z" fill="#151515"/>
<text x="262.76" y="1043.10" font-family='"Liberation Sans", sans-serif' font-size="27" fill="#231f20" stroke="#231f20" stroke-width="0.3">0.95</text>
<text x="263.03" y="1096.20" font-family='"Liberation Sans", sans-serif' font-size="27" fill="#231f20" stroke="#231f20" stroke-width="0.3">0.92</text>
<text x="262.90" y="1148.00" font-family='"Liberation Sans", sans-serif' font-size="27" fill="#231f20" stroke="#231f20" stroke-width="0.3">0.89</text>
<path d="M325.3 1033V1148.1H428.5M325.3 1034.1h4M325.3 1087.2h4M325.3 1139h4M345.94 1148.1v-4M387.22 1148.1v-4" fill="none" stroke="#555557" stroke-width="1.1"/>
<circle cx="345.94" cy="1033.4" r="4.6" fill="#1d4a9c"/>
<circle cx="366.58" cy="1053.7" r="4.6" fill="#b4b5b8"/>
<circle cx="387.22" cy="1068.1" r="4.6" fill="#b4b5b8"/>
<circle cx="407.86" cy="1134.7" r="4.6" fill="#b4b5b8"/>
<circle cx="428.5" cy="1148.1" r="4.6" fill="#e8222a"/>
<text x="327.28" y="1177.10" font-family='"Liberation Sans", sans-serif' font-size="27" fill="#231f20" stroke="#231f20" stroke-width="0.3">0.1</text>
<text x="379.36" y="1177.10" font-family='"Liberation Sans", sans-serif' font-size="27" fill="#231f20" stroke="#231f20" stroke-width="0.3">1</text>
<text x="413.35" y="1177.10" font-family='"Liberation Sans", sans-serif' font-size="27" fill="#231f20" stroke="#231f20" stroke-width="0.3">20</text>
<text x="370.39" y="1211.50" font-family='"Liberation Sans", sans-serif' font-size="27.3" font-style="italic" fill="#231f20" stroke="#231f20" stroke-width="0.3">k</text>
<g transform="translate(351 1018.3)"><text x="-1.35" y="0.00" font-family='"Liberation Serif", serif' font-size="27" font-style="italic" fill="#231f20" stroke="#231f20" stroke-width="0.3">θ</text><text x="13.08" y="0.00" font-family='"Liberation Sans", sans-serif' font-size="27.5" fill="#231f20" stroke="#231f20" stroke-width="0.3">(</text><text x="23.09" y="0.00" font-family='"Liberation Sans", sans-serif' font-size="27.5" font-style="italic" fill="#231f20" stroke="#231f20" stroke-width="0.3">C</text><text x="40.27" y="7.90" font-family='"Liberation Sans", sans-serif' font-size="19" fill="#231f20" stroke="#231f20" stroke-width="0.3">1</text><text x="45.87" y="-14.00" font-family='"Liberation Serif", serif' font-size="19" font-style="italic" fill="#231f20" stroke="#231f20" stroke-width="0.3">τ</text><text x="52.79" y="0.00" font-family='"Liberation Sans", sans-serif' font-size="27.5" fill="#231f20" stroke="#231f20" stroke-width="0.3">)</text></g>
<path d="M627.3 744.9h5.2M627.3 744.9V1233.8" fill="none" stroke="#444446" stroke-width="1.1"/>
<path d="M627.3 1136.02h5.2M627.3 1038.24h5.2M627.3 940.46h5.2M627.3 842.68h5.2" fill="none" stroke="#444446" stroke-width="1.1"/>
<path d="M627.3 1233.8v-4.7M684.06 1233.8v-2.8M717.26 1233.8v-2.8M740.82 1233.8v-2.8M759.09 1233.8v-2.8M774.02 1233.8v-2.8M786.64 1233.8v-2.8M797.58 1233.8v-2.8M807.22 1233.8v-2.8M815.85 1233.8v-4.7M872.61 1233.8v-2.8M905.81 1233.8v-2.8M929.37 1233.8v-2.8M947.64 1233.8v-2.8M962.57 1233.8v-2.8M975.19 1233.8v-2.8M986.13 1233.8v-2.8M995.77 1233.8v-2.8M1004.4 1233.8v-4.7" fill="none" stroke="#3a3a3c" stroke-width="1.1"/>
<path d="M627.3 1233.8H1004.4" fill="none" stroke="#807f81" stroke-width="1.4"/>
<path d="M627.3 937.78V908.37H684.06V892.31H717.26V881.13H740.82V872.53H759.09V865.53H774.02V859.61H786.64V854.49H797.58V849.98H807.22V845.94H815.85V842.29H823.65V838.96H830.78V835.91H837.33V833.08H843.4V830.45H849.05V828H854.34V825.7H859.3V823.53H863.98V821.49H868.41V819.55H872.61V817.72H876.6V815.98H880.41V814.32H884.05V812.73H887.54V811.21H890.88V809.76H894.09V808.37H897.18V807.03H900.16V805.75H903.04V804.51H905.81V803.32H908.5V802.17H911.1V801.06H913.62V799.99H916.06V798.95H918.43V797.94H920.74V796.97H922.98V796.03H925.17V795.12H927.3V794.23H929.37V793.37H931.39V792.53H933.36V791.72H935.29V790.92H937.17V790.15H939.01V789.41H940.81V788.68H942.57V787.96H944.3V787.27H945.99V786.59H947.64V785.94H949.26V785.29H950.85V784.66H952.41V784.05H953.94V783.45H955.45V782.86H956.92V782.29H958.37V781.73H959.79V781.19H961.19V780.65H962.57V780.13H963.92V779.61H965.26V779.11H966.57V778.62H967.86V778.14H969.12V777.67H970.38V777.21H971.61V776.75H972.82V776.31H974.01V775.87H975.19V775.45H976.35V775.03H977.5V774.62H978.63V774.22H979.74V773.82H980.84V773.43H981.93V773.05H983V772.68H984.05V772.31H985.1V771.95H986.13V771.6H987.14V771.25H988.15V770.91H989.14V770.57H990.12V770.24H991.09V769.92H992.05V769.6H993V769.28H993.93V768.98H994.86V768.67H995.77V768.37H996.68V768.08H997.57V767.79H998.46V767.51H999.33V767.23H1000.2V766.96H1001.06V766.69H1001.91V766.42H1002.75V766.16H1003.58V765.9H1004.4V765.65" fill="none" stroke="#153e96" stroke-width="2.4"/>
<path d="M627.3 1145.99V1103.5H684.06V1072.66H717.26V1047.79H740.82V1026.74H759.09V1008.39H774.02V992.12H786.64V977.5H797.58V964.24H807.22V952.11H815.85V940.97H823.65V930.67H830.78V921.12H837.33V912.24H843.4V903.94H849.05V896.19H854.34V888.91H859.3V882.08H863.98V875.66H868.41V869.6H872.61V863.89H876.6V858.49H880.41V853.38H884.05V848.55H887.54V843.97H890.88V839.63H894.09V835.51H897.18V831.59H900.16V827.87H903.04V824.33H905.81V820.96H908.5V817.76H911.1V814.7H913.62V811.79H916.06V809.01H918.43V806.36H920.74V803.84H922.98V801.42H925.17V799.12H927.3V796.92H929.37V794.82H931.39V792.8H933.36V790.88H935.29V789.04H937.17V787.28H939.01V785.6H940.81V783.99H942.57V782.44H944.3V780.97H945.99V779.55H947.64V778.19H949.26V776.89H950.85V775.65H952.41V774.45H953.94V773.31H955.45V772.21H956.92V771.16H958.37V770.15H959.79V769.18H961.19V768.25H962.57V767.36H963.92V766.5H965.26V765.68H966.57V764.89H967.86V764.13H969.12V763.4H970.38V762.7H971.61V762.03H972.82V761.39H974.01V760.77H975.19V760.17H976.35V759.6H977.5V759.05H978.63V758.52H979.74V758.01H980.84V757.53H981.93V757.06H983V756.6H984.05V756.17H985.1V755.75H986.13V755.35H987.14V754.97H988.15V754.59H989.14V754.24H990.12V753.89H991.09V753.56H992.05V753.25H993V752.94H993.93V752.65H994.86V752.36H995.77V752.09H996.68V751.83H997.57V751.57H998.46V751.33H999.33V751.1H1000.2V750.87H1001.06V750.66H1001.91V750.45H1002.75V750.25H1003.58V750.05H1004.4V749.87" fill="none" stroke="#b3b4b7" stroke-width="2.4"/>
<path d="M627.3 1203.24V1174.6H684.06V1147.74H717.26V1122.56H740.82V1098.96H759.09V1076.83H774.02V1056.09H786.64V1036.64H797.58V1018.4H807.22V1001.31H815.85V985.28H823.65V970.26H830.78V956.17H837.33V942.97H843.4V930.59H849.05V918.98H854.34V908.1H859.3V897.9H863.98V888.34H868.41V879.38H872.61V870.97H876.6V863.09H880.41V855.71H884.05V848.78H887.54V842.29H890.88V836.2H894.09V830.49H897.18V825.14H900.16V820.13H903.04V815.43H905.81V811.02H908.5V806.89H911.1V803.01H913.62V799.38H916.06V795.98H918.43V792.78H920.74V789.79H922.98V786.99H925.17V784.35H927.3V781.89H929.37V779.58H931.39V777.41H933.36V775.38H935.29V773.47H937.17V771.69H939.01V770.01H940.81V768.44H942.57V766.97H944.3V765.59H945.99V764.3H947.64V763.09H949.26V761.95H950.85V760.88H952.41V759.89H953.94V758.95H955.45V758.07H956.92V757.25H958.37V756.48H959.79V755.75H961.19V755.07H962.57V754.44H963.92V753.84H965.26V753.28H966.57V752.76H967.86V752.27H969.12V751.81H970.38V751.38H971.61V750.97H972.82V750.59H974.01V750.24H975.19V749.9H976.35V749.59H977.5V749.3H978.63V749.02H979.74V748.76H980.84V748.52H981.93V748.3H983V748.08H984.05V747.89H985.1V747.7H986.13V747.52H987.14V747.36H988.15V747.21H989.14V747.06H990.12V746.93H991.09V746.8H992.05V746.68H993V746.57H993.93V746.47H994.86V746.37H995.77V746.28H996.68V746.19H997.57V746.11H998.46V746.03H999.33V745.96H1000.2V745.9H1001.06V745.83H1001.91V745.78H1002.75V745.72H1003.58V745.67H1004.4V745.62" fill="none" stroke="#b3b4b7" stroke-width="2.4"/>
<path d="M627.3 1233.75V1233.44H684.06V1232.43H717.26V1229.99H740.82V1225.24H759.09V1217.26H774.02V1205.29H786.64V1188.87H797.58V1167.94H807.22V1142.82H815.85V1114.18H823.65V1082.95H830.78V1050.15H837.33V1016.84H843.4V984.01H849.05V952.5H854.34V922.95H859.3V895.84H863.98V871.43H868.41V849.86H872.61V831.09H876.6V815H880.41V801.39H884.05V790.04H887.54V780.67H890.88V773.02H894.09V766.85H897.18V761.91H900.16V757.99H903.04V754.92H905.81V752.51H908.5V750.65H911.1V749.22H913.62V748.13H916.06V747.3H918.43V746.68H920.74V746.21H922.98V745.86H925.17V745.6H927.3V745.41H929.37V745.27H931.39V745.17H933.36V745.09H935.29V745.04H937.17V745H939.01V744.97H940.81V744.95H942.57V744.94H944.3V744.92H945.99V744.92H947.64V744.91H949.26V744.91H950.85V744.91H952.41V744.9H953.94V744.9H955.45V744.9H956.92V744.9H958.37V744.9H959.79V744.9H961.19V744.9H962.57V744.9H963.92V744.9H965.26V744.9H966.57V744.9H967.86V744.9H969.12V744.9H970.38V744.9H971.61V744.9H972.82V744.9H974.01V744.9H975.19V744.9H976.35V744.9H977.5V744.9H978.63V744.9H979.74V744.9H980.84V744.9H981.93V744.9H983V744.9H984.05V744.9H985.1V744.9H986.13V744.9H987.14V744.9H988.15V744.9H989.14V744.9H990.12V744.9H991.09V744.9H992.05V744.9H993V744.9H993.93V744.9H994.86V744.9H995.77V744.9H996.68V744.9H997.57V744.9H998.46V744.9H999.33V744.9H1000.2V744.9H1001.06V744.9H1001.91V744.9H1002.75V744.9H1003.58V744.9H1004.4V744.9" fill="none" stroke="#b3b4b7" stroke-width="2.4"/>
<path d="M627.3 1233.79V1233.74H684.06V1233.48H717.26V1232.66H740.82V1230.65H759.09V1226.51H774.02V1219.11H786.64V1207.35H797.58V1190.32H807.22V1167.63H815.85V1139.42H823.65V1106.45H830.78V1069.95H837.33V1031.44H843.4V992.54H849.05V954.75H854.34V919.32H859.3V887.16H863.98V858.84H868.41V834.56H872.61V814.27H876.6V797.71H880.41V784.48H884.05V774.12H887.54V766.17H890.88V760.18H894.09V755.73H897.18V752.48H900.16V750.14H903.04V748.49H905.81V747.33H908.5V746.52H911.1V745.98H913.62V745.61H916.06V745.36H918.43V745.2H920.74V745.09H922.98V745.02H925.17V744.98H927.3V744.95H929.37V744.93H931.39V744.92H933.36V744.91H935.29V744.91H937.17V744.9H939.01V744.9H940.81V744.9H942.57V744.9H944.3V744.9H945.99V744.9H947.64V744.9H949.26V744.9H950.85V744.9H952.41V744.9H953.94V744.9H955.45V744.9H956.92V744.9H958.37V744.9H959.79V744.9H961.19V744.9H962.57V744.9H963.92V744.9H965.26V744.9H966.57V744.9H967.86V744.9H969.12V744.9H970.38V744.9H971.61V744.9H972.82V744.9H974.01V744.9H975.19V744.9H976.35V744.9H977.5V744.9H978.63V744.9H979.74V744.9H980.84V744.9H981.93V744.9H983V744.9H984.05V744.9H985.1V744.9H986.13V744.9H987.14V744.9H988.15V744.9H989.14V744.9H990.12V744.9H991.09V744.9H992.05V744.9H993V744.9H993.93V744.9H994.86V744.9H995.77V744.9H996.68V744.9H997.57V744.9H998.46V744.9H999.33V744.9H1000.2V744.9H1001.06V744.9H1001.91V744.9H1002.75V744.9H1003.58V744.9H1004.4V744.9" fill="none" stroke="#e8212a" stroke-width="2.4"/>
<text x="579.58" y="754.40" font-family='"Liberation Sans", sans-serif' font-size="27" fill="#231f20" stroke="#231f20" stroke-width="0.3">1.0</text>
<text x="579.72" y="852.18" font-family='"Liberation Sans", sans-serif' font-size="27" fill="#231f20" stroke="#231f20" stroke-width="0.3">0.8</text>
<text x="579.72" y="949.96" font-family='"Liberation Sans", sans-serif' font-size="27" fill="#231f20" stroke="#231f20" stroke-width="0.3">0.6</text>
<text x="579.31" y="1047.74" font-family='"Liberation Sans", sans-serif' font-size="27" fill="#231f20" stroke="#231f20" stroke-width="0.3">0.4</text>
<text x="579.92" y="1145.52" font-family='"Liberation Sans", sans-serif' font-size="27" fill="#231f20" stroke="#231f20" stroke-width="0.3">0.2</text>
<text x="602.13" y="1243.30" font-family='"Liberation Sans", sans-serif' font-size="27" fill="#231f20" stroke="#231f20" stroke-width="0.3">0</text>
<text x="607.64" y="1272.00" font-family='"Liberation Sans", sans-serif' font-size="27" fill="#231f20" stroke="#231f20" stroke-width="0.3">10</text><text x="637.36" y="1259.60" font-family='"Liberation Sans", sans-serif' font-size="18.5" fill="#231f20" stroke="#231f20" stroke-width="0.3">0</text>
<text x="796.61" y="1272.00" font-family='"Liberation Sans", sans-serif' font-size="27" fill="#231f20" stroke="#231f20" stroke-width="0.3">10</text><text x="825.68" y="1259.60" font-family='"Liberation Sans", sans-serif' font-size="18.5" fill="#231f20" stroke="#231f20" stroke-width="0.3">1</text>
<text x="984.95" y="1272.00" font-family='"Liberation Sans", sans-serif' font-size="27" fill="#231f20" stroke="#231f20" stroke-width="0.3">10</text><text x="1014.48" y="1259.60" font-family='"Liberation Sans", sans-serif' font-size="18.5" fill="#231f20" stroke="#231f20" stroke-width="0.3">2</text>
<g transform="translate(545.9 1007.6) rotate(-90)"><text x="-0.82" y="0.00" font-family='"Liberation Sans", sans-serif' font-size="27.5" font-style="italic" fill="#231f20" stroke="#231f20" stroke-width="0.3">F</text><text x="13.85" y="8.90" font-family='"Liberation Serif", serif' font-size="20" font-style="italic" fill="#231f20" stroke="#231f20" stroke-width="0.3">τ</text><text x="20.60" y="10.00" font-family='"Liberation Sans", sans-serif' font-size="20" fill="#231f20" stroke="#231f20" stroke-width="0.3">−</text><text x="32.30" y="8.90" font-family='"Liberation Sans", sans-serif' font-size="20" font-style="italic" fill="#231f20" stroke="#231f20" stroke-width="0.3">t</text></g>
<text x="777.86" y="1321.90" font-family='"Liberation Sans", sans-serif' font-size="27.5" font-style="italic" fill="#231f20" stroke="#231f20" stroke-width="0.3">t</text>
<line x1="795" y1="1302.5" x2="795" y2="1328" stroke="#231f20" stroke-width="1.7"/>
<text x="805.49" y="1321.90" font-family='"Liberation Serif", serif' font-size="27" font-style="italic" fill="#231f20" stroke="#231f20" stroke-width="0.3">δ</text><line x1="807.5" y1="1299.7" x2="822" y2="1299.7" stroke="#231f20" stroke-width="1.3"/>
<text x="824.35" y="1321.90" font-family='"Liberation Sans", sans-serif' font-size="27" fill="#231f20" stroke="#231f20" stroke-width="0.3">=</text>
<text x="848.88" y="1321.90" font-family='"Liberation Sans", sans-serif' font-size="27" fill="#231f20" stroke="#231f20" stroke-width="0.3">15</text>
<text x="748.93" y="806.20" font-family='"Liberation Sans", sans-serif' font-size="27.5" fill="#231f20" stroke="#231f20" stroke-width="0.3">Rising</text>
<text x="751.02" y="837.80" font-family='"Liberation Sans", sans-serif' font-size="27.3" font-style="italic" fill="#231f20" stroke="#231f20" stroke-width="0.3">k</text>
<line x1="775.3" y1="831.2" x2="873.73" y2="930.37" stroke="#151515" stroke-width="1.8"/>
<path d="M881.8 938.5L866.68 934.06L873.73 930.37L877.47 923.35Z" fill="#151515"/>
<text x="840.82" y="1072.00" font-family='"Liberation Sans", sans-serif' font-size="27" fill="#231f20" stroke="#231f20" stroke-width="0.3">0.8</text>
<text x="841.02" y="1105.00" font-family='"Liberation Sans", sans-serif' font-size="27" fill="#231f20" stroke="#231f20" stroke-width="0.3">0.7</text>
<text x="840.82" y="1137.90" font-family='"Liberation Sans", sans-serif' font-size="27" fill="#231f20" stroke="#231f20" stroke-width="0.3">0.6</text>
<path d="M888.3 1033.6V1147.4H991.5M888.3 1063h4M888.3 1096h4M888.3 1128.9h4M908.94 1147.4v-4M950.22 1147.4v-4" fill="none" stroke="#555557" stroke-width="1.1"/>
<circle cx="908.94" cy="1033.6" r="4.6" fill="#1d4a9c"/>
<circle cx="929.58" cy="1053.9" r="4.6" fill="#b4b5b8"/>
<circle cx="950.22" cy="1064.1" r="4.6" fill="#b4b5b8"/>
<circle cx="970.86" cy="1128.4" r="4.6" fill="#b4b5b8"/>
<circle cx="991.5" cy="1147.8" r="4.6" fill="#e8222a"/>
<text x="890.28" y="1177.50" font-family='"Liberation Sans", sans-serif' font-size="27" fill="#231f20" stroke="#231f20" stroke-width="0.3">0.1</text>
<text x="942.36" y="1177.50" font-family='"Liberation Sans", sans-serif' font-size="27" fill="#231f20" stroke="#231f20" stroke-width="0.3">1</text>
<text x="976.35" y="1177.50" font-family='"Liberation Sans", sans-serif' font-size="27" fill="#231f20" stroke="#231f20" stroke-width="0.3">20</text>
<text x="932.99" y="1212.40" font-family='"Liberation Sans", sans-serif' font-size="27.3" font-style="italic" fill="#231f20" stroke="#231f20" stroke-width="0.3">k</text>
<g transform="translate(913.1 1018.3)"><text x="-1.35" y="0.00" font-family='"Liberation Serif", serif' font-size="27" font-style="italic" fill="#231f20" stroke="#231f20" stroke-width="0.3">θ</text><text x="13.08" y="0.00" font-family='"Liberation Sans", sans-serif' font-size="27.5" fill="#231f20" stroke="#231f20" stroke-width="0.3">(</text><text x="23.09" y="0.00" font-family='"Liberation Sans", sans-serif' font-size="27.5" font-style="italic" fill="#231f20" stroke="#231f20" stroke-width="0.3">C</text><text x="40.27" y="7.90" font-family='"Liberation Sans", sans-serif' font-size="19" fill="#231f20" stroke="#231f20" stroke-width="0.3">1</text><text x="45.87" y="-14.00" font-family='"Liberation Serif", serif' font-size="19" font-style="italic" fill="#231f20" stroke="#231f20" stroke-width="0.3">τ</text><text x="52.79" y="0.00" font-family='"Liberation Sans", sans-serif' font-size="27.5" fill="#231f20" stroke="#231f20" stroke-width="0.3">)</text></g>
</svg></body></html>
